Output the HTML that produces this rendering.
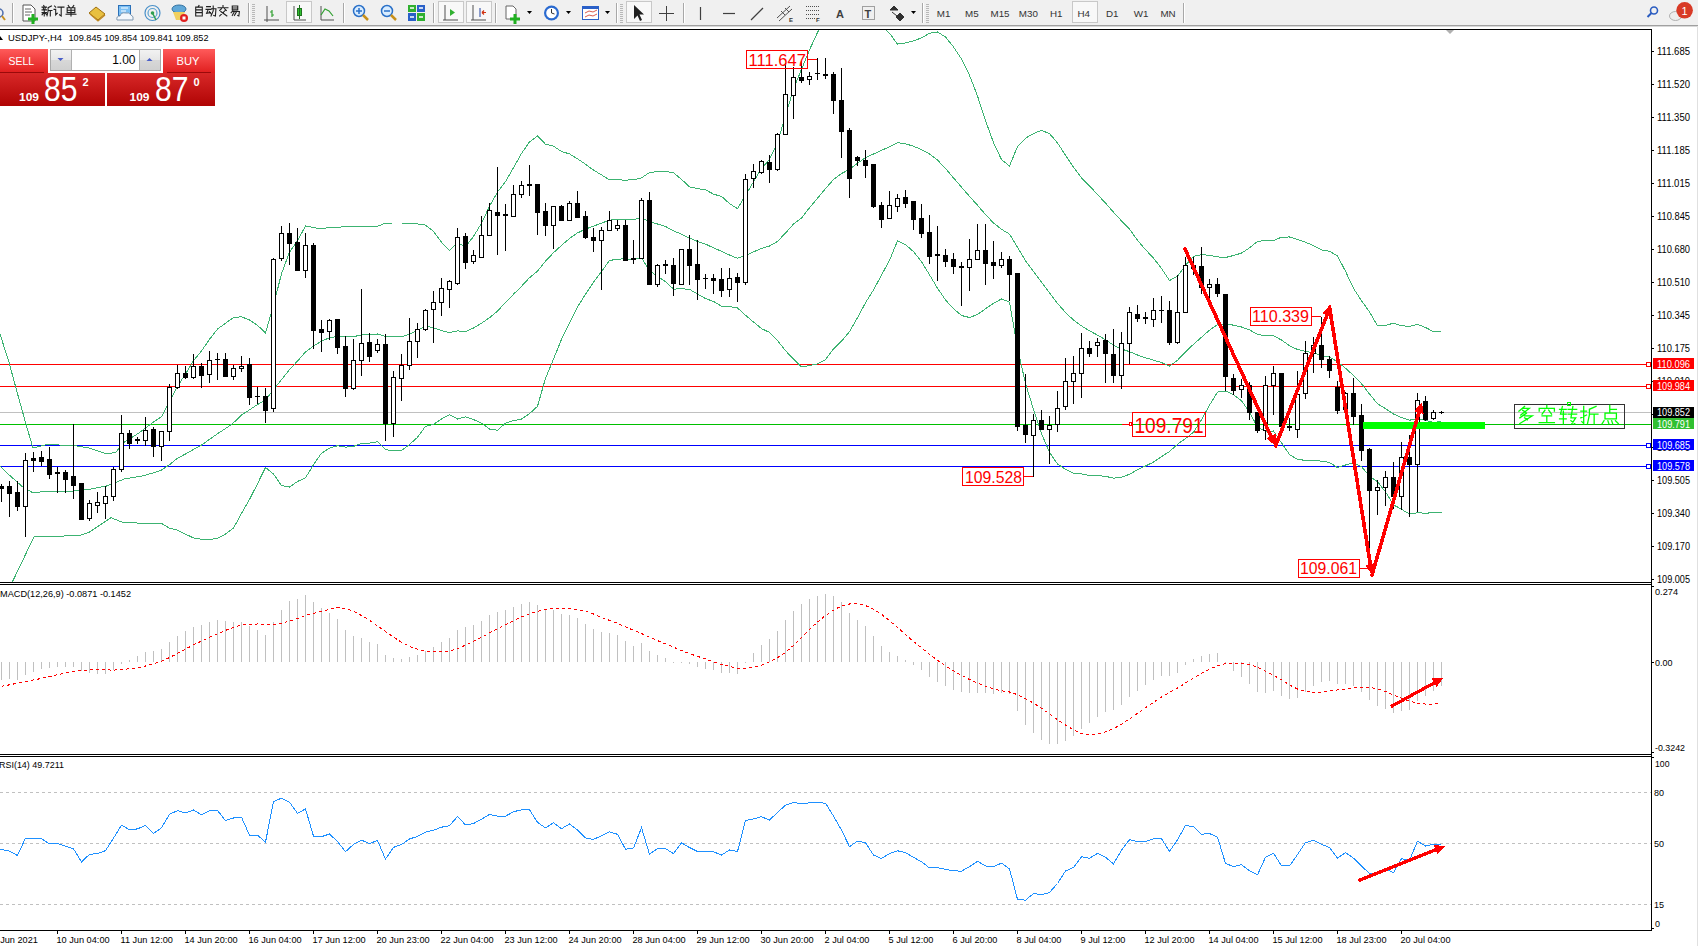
<!DOCTYPE html><html><head><meta charset="utf-8"><style>html,body{margin:0;padding:0;width:1698px;height:946px;overflow:hidden;background:#fff}svg{position:absolute;left:0;top:0;display:block}</style></head><body><svg width="1698" height="946" viewBox="0 0 1698 946">
<defs><clipPath id="cmain"><rect x="0" y="30" width="1651" height="552"/></clipPath><clipPath id="cmacd"><rect x="0" y="585" width="1651" height="169"/></clipPath><clipPath id="crsi"><rect x="0" y="757" width="1651" height="173"/></clipPath></defs>
<rect x="0" y="0" width="1698" height="946" fill="#fff"/>
<rect x="0" y="0" width="1698" height="25" fill="#F0F0F0"/>
<rect x="0" y="25" width="1698" height="1" fill="#A0A0A0"/><rect x="0" y="26" width="1698" height="1" fill="#D8D8D8"/>
<rect x="1697" y="26" width="1" height="920" fill="#E0E0E0"/>
<g shape-rendering="crispEdges" fill="#000">
<rect x="0" y="29" width="1652" height="1"/>
<rect x="1651" y="29" width="1" height="902"/>
<rect x="0" y="582" width="1652" height="1"/>
<rect x="0" y="584" width="1652" height="1"/>
<rect x="0" y="754" width="1652" height="1"/>
<rect x="0" y="756" width="1652" height="1"/>
<rect x="0" y="930" width="1652" height="1"/>
</g>
<g shape-rendering="crispEdges">
<rect x="0" y="364" width="1651" height="1" fill="#FF0000"/>
<rect x="0" y="386" width="1651" height="1" fill="#FF0000"/>
<rect x="0" y="412" width="1651" height="1" fill="#C0C0C0"/>
<rect x="0" y="424" width="1651" height="1" fill="#00C000"/>
<rect x="0" y="445" width="1651" height="1" fill="#0000FF"/>
<rect x="0" y="466" width="1651" height="1" fill="#0000FF"/>
<rect x="1646.5" y="362.5" width="4" height="4" fill="#fff" stroke="#FF0000" stroke-width="1"/>
<rect x="1646.5" y="384.5" width="4" height="4" fill="#fff" stroke="#FF0000" stroke-width="1"/>
<rect x="1646.5" y="443.5" width="4" height="4" fill="#fff" stroke="#0000FF" stroke-width="1"/>
<rect x="1646.5" y="464.5" width="4" height="4" fill="#fff" stroke="#0000FF" stroke-width="1"/>
</g>
<g clip-path="url(#cmain)">
<polyline points="0.0,334.0 8.9,362.0 17.8,394.7 26.0,424.3 33.0,448.0 47.4,444.5 59.2,445.0 74.0,445.6 88.8,448.0 106.6,454.0 115.5,452.5 124.3,442.0 139.0,433.0 153.5,422.1 161.5,416.7 169.5,401.5 177.5,386.3 185.5,373.9 193.5,360.7 201.5,350.9 209.5,339.3 217.5,329.1 225.5,323.2 233.5,317.5 241.5,316.8 249.5,320.0 257.5,325.3 265.5,332.9 273.5,305.3 281.5,273.7 289.5,252.2 297.5,240.8 305.5,225.9 313.5,227.5 321.5,229.0 329.5,227.4 337.5,227.2 345.5,226.8 353.5,226.8 361.5,226.6 369.5,226.5 377.5,226.3 385.5,223.1 393.5,223.0 401.5,223.0 409.5,223.6 417.5,224.0 425.5,225.1 433.5,231.3 441.5,242.2 449.5,250.5 457.5,242.8 465.5,246.6 473.5,236.5 481.5,223.2 489.5,206.3 497.5,192.0 505.5,181.7 513.5,167.7 521.5,153.5 529.5,141.9 537.5,136.0 545.5,144.2 553.5,146.2 561.5,151.5 569.5,153.9 577.5,158.9 585.5,164.2 593.5,170.1 601.5,174.9 609.5,179.8 617.5,179.9 625.5,180.1 633.5,179.8 641.5,177.8 649.5,172.5 657.5,171.6 665.5,171.4 673.5,172.7 681.5,179.4 689.5,186.8 697.5,188.7 705.5,189.7 713.5,194.2 721.5,196.3 729.5,203.6 737.5,208.7 745.5,195.5 753.5,181.8 761.5,168.4 769.5,159.5 777.5,142.4 785.5,115.6 793.5,89.1 801.5,69.3 809.5,49.9 817.5,32.4 825.5,17.6 833.5,10.0 841.5,6.0 849.5,6.9 857.5,8.9 865.5,12.5 873.5,18.0 881.5,25.6 889.5,33.2 897.5,44.1 905.5,43.0 913.5,40.8 921.5,37.9 929.5,33.2 937.5,32.0 945.5,37.0 953.5,46.9 961.5,58.9 969.5,75.3 977.5,96.0 985.5,120.5 993.5,142.6 1001.5,159.6 1009.5,166.1 1017.5,146.5 1025.5,138.2 1033.5,133.5 1041.5,130.4 1049.5,133.6 1057.5,142.9 1065.5,155.3 1073.5,167.1 1081.5,177.9 1089.5,185.9 1097.5,194.5 1105.5,203.1 1113.5,212.2 1121.5,220.9 1129.5,229.0 1137.5,240.3 1145.5,249.6 1153.5,258.1 1161.5,268.5 1169.5,280.5 1177.5,276.3 1185.5,265.3 1193.5,256.3 1201.5,254.8 1209.5,255.2 1217.5,256.9 1225.5,257.5 1233.5,255.5 1241.5,253.1 1249.5,247.9 1257.5,241.4 1265.5,240.6 1273.5,240.7 1281.5,237.1 1289.5,237.0 1297.5,239.6 1305.5,242.3 1313.5,245.6 1321.5,249.9 1329.5,251.3 1337.5,255.9 1345.5,271.3 1353.5,288.3 1361.5,300.7 1369.5,311.9 1377.5,325.7 1385.5,325.5 1393.5,323.1 1401.5,325.8 1409.5,326.3 1417.5,324.5 1425.5,327.4 1433.5,331.8 1441.5,331.0" fill="none" stroke="#3CB371" stroke-width="1" shape-rendering="crispEdges" />
<polyline points="0.0,465.8 8.9,474.7 22.2,486.5 33.2,493.0 47.4,491.0 74.0,491.0 88.8,489.5 106.6,486.0 124.3,479.0 142.0,476.0 153.5,472.9 161.5,470.0 169.5,464.8 177.5,458.2 185.5,454.0 193.5,449.4 201.5,445.1 209.5,439.4 217.5,433.7 225.5,428.6 233.5,422.8 241.5,415.1 249.5,409.8 257.5,404.5 265.5,400.2 273.5,389.7 281.5,379.7 289.5,369.7 297.5,361.1 305.5,351.9 313.5,346.1 321.5,341.1 329.5,337.8 337.5,336.4 345.5,336.9 353.5,336.6 361.5,335.0 369.5,334.8 377.5,334.0 385.5,336.4 393.5,336.9 401.5,336.8 409.5,334.0 417.5,330.7 425.5,325.7 433.5,327.9 441.5,330.6 449.5,332.6 457.5,330.9 465.5,331.7 473.5,328.0 481.5,323.2 489.5,317.7 497.5,311.1 505.5,302.5 513.5,294.2 521.5,286.3 529.5,277.7 537.5,271.1 545.5,261.2 553.5,252.7 561.5,245.4 569.5,238.5 577.5,232.9 585.5,229.2 593.5,226.1 601.5,223.2 609.5,220.1 617.5,219.5 625.5,219.5 633.5,219.6 641.5,217.8 649.5,221.5 657.5,224.0 665.5,226.5 673.5,230.9 681.5,234.1 689.5,238.1 697.5,241.4 705.5,244.1 713.5,247.8 721.5,251.3 729.5,255.0 737.5,258.3 745.5,255.4 753.5,251.9 761.5,248.5 769.5,246.0 777.5,241.4 785.5,233.1 793.5,224.1 801.5,218.1 809.5,207.7 817.5,198.2 825.5,188.7 833.5,179.5 841.5,173.6 849.5,169.3 857.5,163.3 865.5,157.7 873.5,154.0 881.5,150.4 889.5,146.8 897.5,142.6 905.5,143.8 913.5,146.2 921.5,149.7 929.5,154.0 937.5,160.1 945.5,168.5 953.5,177.9 961.5,187.2 969.5,196.4 977.5,205.2 985.5,214.6 993.5,222.9 1001.5,229.3 1009.5,234.1 1017.5,247.4 1025.5,260.8 1033.5,271.5 1041.5,282.0 1049.5,293.0 1057.5,303.5 1065.5,312.4 1073.5,320.1 1081.5,325.9 1089.5,330.8 1097.5,335.1 1105.5,339.7 1113.5,345.2 1121.5,349.0 1129.5,351.7 1137.5,355.0 1145.5,357.8 1153.5,360.1 1161.5,362.6 1169.5,366.0 1177.5,360.3 1185.5,351.9 1193.5,344.3 1201.5,337.2 1209.5,330.2 1217.5,324.5 1225.5,324.3 1233.5,325.1 1241.5,327.0 1249.5,329.9 1257.5,334.3 1265.5,335.9 1273.5,335.8 1281.5,340.0 1289.5,345.7 1297.5,349.5 1305.5,351.3 1313.5,353.0 1321.5,355.5 1329.5,356.9 1337.5,361.8 1345.5,368.2 1353.5,375.5 1361.5,383.7 1369.5,394.0 1377.5,403.7 1385.5,408.7 1393.5,414.0 1401.5,417.6 1409.5,420.2 1417.5,418.7 1425.5,420.3 1433.5,422.3 1441.5,421.6" fill="none" stroke="#3CB371" stroke-width="1" shape-rendering="crispEdges" />
<polyline points="0.0,600.0 13.3,580.0 34.0,536.8 59.2,536.2 80.0,535.3 88.8,532.4 111.0,517.6 121.4,522.0 145.0,523.5 153.5,523.7 161.5,523.4 169.5,528.1 177.5,530.1 185.5,534.1 193.5,538.0 201.5,539.3 209.5,539.5 217.5,538.4 225.5,534.0 233.5,528.1 241.5,513.4 249.5,499.5 257.5,483.7 265.5,467.4 273.5,474.0 281.5,485.6 289.5,487.1 297.5,481.5 305.5,477.8 313.5,464.7 321.5,453.2 329.5,448.1 337.5,445.7 345.5,447.1 353.5,446.4 361.5,443.5 369.5,443.1 377.5,441.8 385.5,449.7 393.5,450.7 401.5,450.6 409.5,444.5 417.5,437.3 425.5,426.3 433.5,424.4 441.5,419.0 449.5,414.6 457.5,419.0 465.5,416.9 473.5,419.5 481.5,423.1 489.5,429.1 497.5,430.2 505.5,423.2 513.5,420.6 521.5,419.1 529.5,413.6 537.5,406.3 545.5,378.3 553.5,359.1 561.5,339.4 569.5,323.2 577.5,306.9 585.5,294.3 593.5,282.2 601.5,271.6 609.5,260.5 617.5,259.2 625.5,258.8 633.5,259.4 641.5,257.8 649.5,270.5 657.5,276.3 665.5,281.6 673.5,289.1 681.5,288.8 689.5,289.3 697.5,294.1 705.5,298.6 713.5,301.4 721.5,306.3 729.5,306.5 737.5,307.9 745.5,315.3 753.5,322.0 761.5,328.6 769.5,332.4 777.5,340.5 785.5,350.7 793.5,359.1 801.5,366.9 809.5,365.5 817.5,363.9 825.5,359.7 833.5,349.0 841.5,341.2 849.5,331.6 857.5,317.7 865.5,302.8 873.5,289.9 881.5,275.2 889.5,260.3 897.5,241.0 905.5,244.6 913.5,251.6 921.5,261.6 929.5,274.8 937.5,288.2 945.5,299.9 953.5,308.8 961.5,315.5 969.5,317.5 977.5,314.5 985.5,308.8 993.5,303.2 1001.5,299.0 1009.5,302.1 1017.5,348.2 1025.5,383.4 1033.5,409.5 1041.5,433.6 1049.5,452.3 1057.5,464.0 1065.5,469.4 1073.5,473.1 1081.5,473.9 1089.5,475.6 1097.5,475.7 1105.5,476.3 1113.5,478.2 1121.5,477.1 1129.5,474.3 1137.5,469.8 1145.5,466.0 1153.5,462.1 1161.5,456.7 1169.5,451.5 1177.5,444.3 1185.5,438.5 1193.5,432.3 1201.5,419.6 1209.5,405.2 1217.5,392.1 1225.5,391.0 1233.5,394.8 1241.5,400.8 1249.5,411.9 1257.5,427.3 1265.5,431.2 1273.5,431.0 1281.5,442.9 1289.5,454.5 1297.5,459.5 1305.5,460.3 1313.5,460.5 1321.5,461.1 1329.5,462.5 1337.5,467.6 1345.5,465.0 1353.5,462.7 1361.5,466.7 1369.5,476.1 1377.5,481.7 1385.5,491.9 1393.5,504.8 1401.5,509.3 1409.5,514.1 1417.5,512.8 1425.5,513.2 1433.5,512.7 1441.5,512.2" fill="none" stroke="#3CB371" stroke-width="1" shape-rendering="crispEdges" />
</g>
<g shape-rendering="crispEdges">
<rect x="1" y="484" width="1" height="18" fill="#000"/>
<rect x="-1" y="486" width="5" height="3" fill="#000"/>
<rect x="9" y="481" width="1" height="36" fill="#000"/>
<rect x="7" y="486" width="5" height="8" fill="#000"/>
<rect x="17" y="481" width="1" height="30" fill="#000"/>
<rect x="15" y="492" width="5" height="15" fill="#000"/>
<rect x="25" y="453" width="1" height="84" fill="#000"/>
<rect x="23" y="460" width="5" height="47" fill="#000"/>
<rect x="24" y="461" width="3" height="45" fill="#fff"/>
<rect x="33" y="452" width="1" height="20" fill="#000"/>
<rect x="31" y="458" width="5" height="3" fill="#000"/>
<rect x="41" y="451" width="1" height="15" fill="#000"/>
<rect x="39" y="457" width="5" height="5" fill="#000"/>
<rect x="49" y="447" width="1" height="32" fill="#000"/>
<rect x="47" y="459" width="5" height="16" fill="#000"/>
<rect x="57" y="467" width="1" height="26" fill="#000"/>
<rect x="55" y="472" width="5" height="2" fill="#000"/>
<rect x="65" y="470" width="1" height="23" fill="#000"/>
<rect x="63" y="472" width="5" height="8" fill="#000"/>
<rect x="73" y="424" width="1" height="75" fill="#000"/>
<rect x="71" y="476" width="5" height="10" fill="#000"/>
<rect x="81" y="483" width="1" height="37" fill="#000"/>
<rect x="79" y="483" width="5" height="37" fill="#000"/>
<rect x="89" y="500" width="1" height="21" fill="#000"/>
<rect x="87" y="503" width="5" height="16" fill="#000"/>
<rect x="88" y="504" width="3" height="14" fill="#fff"/>
<rect x="97" y="492" width="1" height="21" fill="#000"/>
<rect x="95" y="502" width="5" height="4" fill="#000"/>
<rect x="96" y="503" width="3" height="2" fill="#fff"/>
<rect x="105" y="486" width="1" height="33" fill="#000"/>
<rect x="103" y="496" width="5" height="8" fill="#000"/>
<rect x="104" y="497" width="3" height="6" fill="#fff"/>
<rect x="113" y="467" width="1" height="34" fill="#000"/>
<rect x="111" y="469" width="5" height="28" fill="#000"/>
<rect x="112" y="470" width="3" height="26" fill="#fff"/>
<rect x="121" y="415" width="1" height="57" fill="#000"/>
<rect x="119" y="433" width="5" height="37" fill="#000"/>
<rect x="120" y="434" width="3" height="35" fill="#fff"/>
<rect x="129" y="430" width="1" height="19" fill="#000"/>
<rect x="127" y="433" width="5" height="11" fill="#000"/>
<rect x="137" y="437" width="1" height="7" fill="#000"/>
<rect x="135" y="439" width="5" height="2" fill="#000"/>
<rect x="145" y="417" width="1" height="29" fill="#000"/>
<rect x="143" y="430" width="5" height="11" fill="#000"/>
<rect x="144" y="431" width="3" height="9" fill="#fff"/>
<rect x="153" y="427" width="1" height="30" fill="#000"/>
<rect x="151" y="429" width="5" height="18" fill="#000"/>
<rect x="161" y="431" width="1" height="30" fill="#000"/>
<rect x="159" y="431" width="5" height="16" fill="#000"/>
<rect x="160" y="432" width="3" height="14" fill="#fff"/>
<rect x="169" y="384" width="1" height="57" fill="#000"/>
<rect x="167" y="387" width="5" height="45" fill="#000"/>
<rect x="168" y="388" width="3" height="43" fill="#fff"/>
<rect x="177" y="365" width="1" height="24" fill="#000"/>
<rect x="175" y="373" width="5" height="15" fill="#000"/>
<rect x="176" y="374" width="3" height="13" fill="#fff"/>
<rect x="185" y="366" width="1" height="13" fill="#000"/>
<rect x="183" y="373" width="5" height="5" fill="#000"/>
<rect x="193" y="354" width="1" height="25" fill="#000"/>
<rect x="191" y="366" width="5" height="12" fill="#000"/>
<rect x="192" y="367" width="3" height="10" fill="#fff"/>
<rect x="201" y="363" width="1" height="25" fill="#000"/>
<rect x="199" y="366" width="5" height="10" fill="#000"/>
<rect x="209" y="351" width="1" height="32" fill="#000"/>
<rect x="207" y="360" width="5" height="15" fill="#000"/>
<rect x="208" y="361" width="3" height="13" fill="#fff"/>
<rect x="217" y="353" width="1" height="27" fill="#000"/>
<rect x="215" y="359" width="5" height="1" fill="#000"/>
<rect x="225" y="353" width="1" height="23" fill="#000"/>
<rect x="223" y="359" width="5" height="18" fill="#000"/>
<rect x="233" y="365" width="1" height="15" fill="#000"/>
<rect x="231" y="368" width="5" height="9" fill="#000"/>
<rect x="232" y="369" width="3" height="7" fill="#fff"/>
<rect x="241" y="356" width="1" height="16" fill="#000"/>
<rect x="239" y="366" width="5" height="3" fill="#000"/>
<rect x="240" y="367" width="3" height="1" fill="#fff"/>
<rect x="249" y="358" width="1" height="47" fill="#000"/>
<rect x="247" y="364" width="5" height="34" fill="#000"/>
<rect x="257" y="387" width="1" height="17" fill="#000"/>
<rect x="255" y="396" width="5" height="1" fill="#000"/>
<rect x="265" y="388" width="1" height="35" fill="#000"/>
<rect x="263" y="396" width="5" height="15" fill="#000"/>
<rect x="273" y="258" width="1" height="154" fill="#000"/>
<rect x="271" y="259" width="5" height="150" fill="#000"/>
<rect x="272" y="260" width="3" height="148" fill="#fff"/>
<rect x="281" y="226" width="1" height="35" fill="#000"/>
<rect x="279" y="233" width="5" height="26" fill="#000"/>
<rect x="280" y="234" width="3" height="24" fill="#fff"/>
<rect x="289" y="223" width="1" height="42" fill="#000"/>
<rect x="287" y="233" width="5" height="11" fill="#000"/>
<rect x="297" y="228" width="1" height="42" fill="#000"/>
<rect x="295" y="242" width="5" height="29" fill="#000"/>
<rect x="305" y="233" width="1" height="45" fill="#000"/>
<rect x="303" y="245" width="5" height="26" fill="#000"/>
<rect x="304" y="246" width="3" height="24" fill="#fff"/>
<rect x="313" y="243" width="1" height="106" fill="#000"/>
<rect x="311" y="245" width="5" height="86" fill="#000"/>
<rect x="321" y="320" width="1" height="32" fill="#000"/>
<rect x="319" y="329" width="5" height="4" fill="#000"/>
<rect x="329" y="319" width="1" height="21" fill="#000"/>
<rect x="327" y="320" width="5" height="12" fill="#000"/>
<rect x="328" y="321" width="3" height="10" fill="#fff"/>
<rect x="337" y="319" width="1" height="35" fill="#000"/>
<rect x="335" y="319" width="5" height="29" fill="#000"/>
<rect x="345" y="336" width="1" height="61" fill="#000"/>
<rect x="343" y="346" width="5" height="43" fill="#000"/>
<rect x="353" y="339" width="1" height="51" fill="#000"/>
<rect x="351" y="360" width="5" height="29" fill="#000"/>
<rect x="352" y="361" width="3" height="27" fill="#fff"/>
<rect x="361" y="289" width="1" height="87" fill="#000"/>
<rect x="359" y="343" width="5" height="18" fill="#000"/>
<rect x="360" y="344" width="3" height="16" fill="#fff"/>
<rect x="369" y="333" width="1" height="29" fill="#000"/>
<rect x="367" y="342" width="5" height="15" fill="#000"/>
<rect x="377" y="339" width="1" height="14" fill="#000"/>
<rect x="375" y="344" width="5" height="7" fill="#000"/>
<rect x="376" y="345" width="3" height="5" fill="#fff"/>
<rect x="385" y="334" width="1" height="107" fill="#000"/>
<rect x="383" y="344" width="5" height="80" fill="#000"/>
<rect x="393" y="371" width="1" height="66" fill="#000"/>
<rect x="391" y="377" width="5" height="47" fill="#000"/>
<rect x="392" y="378" width="3" height="45" fill="#fff"/>
<rect x="401" y="354" width="1" height="47" fill="#000"/>
<rect x="399" y="365" width="5" height="14" fill="#000"/>
<rect x="400" y="366" width="3" height="12" fill="#fff"/>
<rect x="409" y="318" width="1" height="52" fill="#000"/>
<rect x="407" y="341" width="5" height="25" fill="#000"/>
<rect x="408" y="342" width="3" height="23" fill="#fff"/>
<rect x="417" y="323" width="1" height="35" fill="#000"/>
<rect x="415" y="329" width="5" height="13" fill="#000"/>
<rect x="416" y="330" width="3" height="11" fill="#fff"/>
<rect x="425" y="309" width="1" height="22" fill="#000"/>
<rect x="423" y="310" width="5" height="20" fill="#000"/>
<rect x="424" y="311" width="3" height="18" fill="#fff"/>
<rect x="433" y="291" width="1" height="52" fill="#000"/>
<rect x="431" y="302" width="5" height="8" fill="#000"/>
<rect x="432" y="303" width="3" height="6" fill="#fff"/>
<rect x="441" y="278" width="1" height="38" fill="#000"/>
<rect x="439" y="288" width="5" height="15" fill="#000"/>
<rect x="440" y="289" width="3" height="13" fill="#fff"/>
<rect x="449" y="280" width="1" height="28" fill="#000"/>
<rect x="447" y="281" width="5" height="9" fill="#000"/>
<rect x="448" y="282" width="3" height="7" fill="#fff"/>
<rect x="457" y="228" width="1" height="57" fill="#000"/>
<rect x="455" y="237" width="5" height="47" fill="#000"/>
<rect x="456" y="238" width="3" height="45" fill="#fff"/>
<rect x="465" y="233" width="1" height="36" fill="#000"/>
<rect x="463" y="236" width="5" height="27" fill="#000"/>
<rect x="473" y="250" width="1" height="14" fill="#000"/>
<rect x="471" y="255" width="5" height="7" fill="#000"/>
<rect x="472" y="256" width="3" height="5" fill="#fff"/>
<rect x="481" y="216" width="1" height="42" fill="#000"/>
<rect x="479" y="235" width="5" height="23" fill="#000"/>
<rect x="480" y="236" width="3" height="21" fill="#fff"/>
<rect x="489" y="203" width="1" height="32" fill="#000"/>
<rect x="487" y="210" width="5" height="26" fill="#000"/>
<rect x="488" y="211" width="3" height="24" fill="#fff"/>
<rect x="497" y="167" width="1" height="88" fill="#000"/>
<rect x="495" y="212" width="5" height="4" fill="#000"/>
<rect x="505" y="204" width="1" height="47" fill="#000"/>
<rect x="503" y="214" width="5" height="2" fill="#000"/>
<rect x="513" y="185" width="1" height="31" fill="#000"/>
<rect x="511" y="194" width="5" height="23" fill="#000"/>
<rect x="512" y="195" width="3" height="21" fill="#fff"/>
<rect x="521" y="181" width="1" height="17" fill="#000"/>
<rect x="519" y="185" width="5" height="10" fill="#000"/>
<rect x="520" y="186" width="3" height="8" fill="#fff"/>
<rect x="529" y="165" width="1" height="31" fill="#000"/>
<rect x="527" y="184" width="5" height="2" fill="#000"/>
<rect x="537" y="184" width="1" height="51" fill="#000"/>
<rect x="535" y="184" width="5" height="29" fill="#000"/>
<rect x="545" y="203" width="1" height="33" fill="#000"/>
<rect x="543" y="211" width="5" height="15" fill="#000"/>
<rect x="553" y="206" width="1" height="43" fill="#000"/>
<rect x="551" y="206" width="5" height="20" fill="#000"/>
<rect x="552" y="207" width="3" height="18" fill="#fff"/>
<rect x="561" y="205" width="1" height="15" fill="#000"/>
<rect x="559" y="206" width="5" height="15" fill="#000"/>
<rect x="569" y="201" width="1" height="20" fill="#000"/>
<rect x="567" y="203" width="5" height="18" fill="#000"/>
<rect x="568" y="204" width="3" height="16" fill="#fff"/>
<rect x="577" y="191" width="1" height="27" fill="#000"/>
<rect x="575" y="203" width="5" height="15" fill="#000"/>
<rect x="585" y="211" width="1" height="28" fill="#000"/>
<rect x="583" y="216" width="5" height="22" fill="#000"/>
<rect x="593" y="228" width="1" height="24" fill="#000"/>
<rect x="591" y="237" width="5" height="4" fill="#000"/>
<rect x="601" y="227" width="1" height="63" fill="#000"/>
<rect x="599" y="230" width="5" height="11" fill="#000"/>
<rect x="600" y="231" width="3" height="9" fill="#fff"/>
<rect x="609" y="211" width="1" height="20" fill="#000"/>
<rect x="607" y="220" width="5" height="11" fill="#000"/>
<rect x="608" y="221" width="3" height="9" fill="#fff"/>
<rect x="617" y="220" width="1" height="11" fill="#000"/>
<rect x="615" y="225" width="5" height="4" fill="#000"/>
<rect x="616" y="226" width="3" height="2" fill="#fff"/>
<rect x="625" y="220" width="1" height="40" fill="#000"/>
<rect x="623" y="225" width="5" height="36" fill="#000"/>
<rect x="633" y="240" width="1" height="24" fill="#000"/>
<rect x="631" y="258" width="5" height="2" fill="#000"/>
<rect x="641" y="198" width="1" height="61" fill="#000"/>
<rect x="639" y="200" width="5" height="59" fill="#000"/>
<rect x="640" y="201" width="3" height="57" fill="#fff"/>
<rect x="649" y="192" width="1" height="92" fill="#000"/>
<rect x="647" y="200" width="5" height="85" fill="#000"/>
<rect x="657" y="264" width="1" height="23" fill="#000"/>
<rect x="655" y="265" width="5" height="20" fill="#000"/>
<rect x="656" y="266" width="3" height="18" fill="#fff"/>
<rect x="665" y="260" width="1" height="14" fill="#000"/>
<rect x="663" y="264" width="5" height="2" fill="#000"/>
<rect x="673" y="258" width="1" height="38" fill="#000"/>
<rect x="671" y="265" width="5" height="19" fill="#000"/>
<rect x="681" y="249" width="1" height="35" fill="#000"/>
<rect x="679" y="249" width="5" height="36" fill="#000"/>
<rect x="680" y="250" width="3" height="34" fill="#fff"/>
<rect x="689" y="235" width="1" height="50" fill="#000"/>
<rect x="687" y="249" width="5" height="17" fill="#000"/>
<rect x="697" y="240" width="1" height="60" fill="#000"/>
<rect x="695" y="264" width="5" height="16" fill="#000"/>
<rect x="705" y="274" width="1" height="15" fill="#000"/>
<rect x="703" y="278" width="5" height="1" fill="#000"/>
<rect x="713" y="274" width="1" height="20" fill="#000"/>
<rect x="711" y="278" width="5" height="3" fill="#000"/>
<rect x="721" y="268" width="1" height="29" fill="#000"/>
<rect x="719" y="279" width="5" height="12" fill="#000"/>
<rect x="729" y="268" width="1" height="29" fill="#000"/>
<rect x="727" y="278" width="5" height="12" fill="#000"/>
<rect x="728" y="279" width="3" height="10" fill="#fff"/>
<rect x="737" y="273" width="1" height="29" fill="#000"/>
<rect x="735" y="277" width="5" height="6" fill="#000"/>
<rect x="745" y="174" width="1" height="111" fill="#000"/>
<rect x="743" y="179" width="5" height="104" fill="#000"/>
<rect x="744" y="180" width="3" height="102" fill="#fff"/>
<rect x="753" y="164" width="1" height="24" fill="#000"/>
<rect x="751" y="171" width="5" height="8" fill="#000"/>
<rect x="752" y="172" width="3" height="6" fill="#fff"/>
<rect x="761" y="160" width="1" height="14" fill="#000"/>
<rect x="759" y="161" width="5" height="12" fill="#000"/>
<rect x="760" y="162" width="3" height="10" fill="#fff"/>
<rect x="769" y="155" width="1" height="28" fill="#000"/>
<rect x="767" y="162" width="5" height="8" fill="#000"/>
<rect x="777" y="133" width="1" height="38" fill="#000"/>
<rect x="775" y="134" width="5" height="36" fill="#000"/>
<rect x="776" y="135" width="3" height="34" fill="#fff"/>
<rect x="785" y="63" width="1" height="71" fill="#000"/>
<rect x="783" y="94" width="5" height="41" fill="#000"/>
<rect x="784" y="95" width="3" height="39" fill="#fff"/>
<rect x="793" y="67" width="1" height="52" fill="#000"/>
<rect x="791" y="77" width="5" height="19" fill="#000"/>
<rect x="792" y="78" width="3" height="17" fill="#fff"/>
<rect x="801" y="61" width="1" height="22" fill="#000"/>
<rect x="799" y="77" width="5" height="4" fill="#000"/>
<rect x="809" y="72" width="1" height="13" fill="#000"/>
<rect x="807" y="76" width="5" height="4" fill="#000"/>
<rect x="808" y="77" width="3" height="2" fill="#fff"/>
<rect x="817" y="58" width="1" height="22" fill="#000"/>
<rect x="815" y="73" width="5" height="1" fill="#000"/>
<rect x="825" y="58" width="1" height="21" fill="#000"/>
<rect x="823" y="74" width="5" height="2" fill="#000"/>
<rect x="833" y="72" width="1" height="42" fill="#000"/>
<rect x="831" y="74" width="5" height="27" fill="#000"/>
<rect x="841" y="68" width="1" height="90" fill="#000"/>
<rect x="839" y="100" width="5" height="32" fill="#000"/>
<rect x="849" y="128" width="1" height="70" fill="#000"/>
<rect x="847" y="130" width="5" height="49" fill="#000"/>
<rect x="857" y="156" width="1" height="10" fill="#000"/>
<rect x="855" y="157" width="5" height="4" fill="#000"/>
<rect x="865" y="150" width="1" height="28" fill="#000"/>
<rect x="863" y="160" width="5" height="6" fill="#000"/>
<rect x="873" y="164" width="1" height="44" fill="#000"/>
<rect x="871" y="164" width="5" height="43" fill="#000"/>
<rect x="881" y="202" width="1" height="26" fill="#000"/>
<rect x="879" y="205" width="5" height="15" fill="#000"/>
<rect x="889" y="191" width="1" height="28" fill="#000"/>
<rect x="887" y="205" width="5" height="14" fill="#000"/>
<rect x="888" y="206" width="3" height="12" fill="#fff"/>
<rect x="897" y="194" width="1" height="18" fill="#000"/>
<rect x="895" y="198" width="5" height="9" fill="#000"/>
<rect x="896" y="199" width="3" height="7" fill="#fff"/>
<rect x="905" y="190" width="1" height="18" fill="#000"/>
<rect x="903" y="197" width="5" height="7" fill="#000"/>
<rect x="913" y="201" width="1" height="29" fill="#000"/>
<rect x="911" y="201" width="5" height="19" fill="#000"/>
<rect x="921" y="204" width="1" height="34" fill="#000"/>
<rect x="919" y="218" width="5" height="16" fill="#000"/>
<rect x="929" y="215" width="1" height="49" fill="#000"/>
<rect x="927" y="232" width="5" height="25" fill="#000"/>
<rect x="937" y="226" width="1" height="55" fill="#000"/>
<rect x="935" y="254" width="5" height="2" fill="#000"/>
<rect x="945" y="249" width="1" height="18" fill="#000"/>
<rect x="943" y="255" width="5" height="7" fill="#000"/>
<rect x="953" y="253" width="1" height="21" fill="#000"/>
<rect x="951" y="259" width="5" height="8" fill="#000"/>
<rect x="961" y="262" width="1" height="44" fill="#000"/>
<rect x="959" y="266" width="5" height="2" fill="#000"/>
<rect x="969" y="239" width="1" height="52" fill="#000"/>
<rect x="967" y="259" width="5" height="9" fill="#000"/>
<rect x="968" y="260" width="3" height="7" fill="#fff"/>
<rect x="977" y="224" width="1" height="35" fill="#000"/>
<rect x="975" y="250" width="5" height="10" fill="#000"/>
<rect x="976" y="251" width="3" height="8" fill="#fff"/>
<rect x="985" y="224" width="1" height="61" fill="#000"/>
<rect x="983" y="250" width="5" height="14" fill="#000"/>
<rect x="993" y="241" width="1" height="38" fill="#000"/>
<rect x="991" y="262" width="5" height="4" fill="#000"/>
<rect x="1001" y="252" width="1" height="16" fill="#000"/>
<rect x="999" y="259" width="5" height="7" fill="#000"/>
<rect x="1000" y="260" width="3" height="5" fill="#fff"/>
<rect x="1009" y="256" width="1" height="45" fill="#000"/>
<rect x="1007" y="259" width="5" height="16" fill="#000"/>
<rect x="1017" y="273" width="1" height="158" fill="#000"/>
<rect x="1015" y="273" width="5" height="154" fill="#000"/>
<rect x="1025" y="374" width="1" height="69" fill="#000"/>
<rect x="1023" y="425" width="5" height="10" fill="#000"/>
<rect x="1033" y="414" width="1" height="63" fill="#000"/>
<rect x="1031" y="420" width="5" height="16" fill="#000"/>
<rect x="1032" y="421" width="3" height="14" fill="#fff"/>
<rect x="1041" y="410" width="1" height="19" fill="#000"/>
<rect x="1039" y="420" width="5" height="10" fill="#000"/>
<rect x="1049" y="416" width="1" height="48" fill="#000"/>
<rect x="1047" y="425" width="5" height="5" fill="#000"/>
<rect x="1048" y="426" width="3" height="3" fill="#fff"/>
<rect x="1057" y="391" width="1" height="41" fill="#000"/>
<rect x="1055" y="408" width="5" height="17" fill="#000"/>
<rect x="1056" y="409" width="3" height="15" fill="#fff"/>
<rect x="1065" y="358" width="1" height="52" fill="#000"/>
<rect x="1063" y="381" width="5" height="26" fill="#000"/>
<rect x="1064" y="382" width="3" height="24" fill="#fff"/>
<rect x="1073" y="356" width="1" height="48" fill="#000"/>
<rect x="1071" y="373" width="5" height="9" fill="#000"/>
<rect x="1072" y="374" width="3" height="7" fill="#fff"/>
<rect x="1081" y="333" width="1" height="65" fill="#000"/>
<rect x="1079" y="348" width="5" height="26" fill="#000"/>
<rect x="1080" y="349" width="3" height="24" fill="#fff"/>
<rect x="1089" y="341" width="1" height="16" fill="#000"/>
<rect x="1087" y="348" width="5" height="6" fill="#000"/>
<rect x="1097" y="338" width="1" height="19" fill="#000"/>
<rect x="1095" y="342" width="5" height="4" fill="#000"/>
<rect x="1096" y="343" width="3" height="2" fill="#fff"/>
<rect x="1105" y="334" width="1" height="49" fill="#000"/>
<rect x="1103" y="340" width="5" height="14" fill="#000"/>
<rect x="1113" y="329" width="1" height="54" fill="#000"/>
<rect x="1111" y="354" width="5" height="22" fill="#000"/>
<rect x="1121" y="332" width="1" height="57" fill="#000"/>
<rect x="1119" y="343" width="5" height="33" fill="#000"/>
<rect x="1120" y="344" width="3" height="31" fill="#fff"/>
<rect x="1129" y="307" width="1" height="57" fill="#000"/>
<rect x="1127" y="312" width="5" height="32" fill="#000"/>
<rect x="1128" y="313" width="3" height="30" fill="#fff"/>
<rect x="1137" y="305" width="1" height="17" fill="#000"/>
<rect x="1135" y="314" width="5" height="5" fill="#000"/>
<rect x="1145" y="312" width="1" height="12" fill="#000"/>
<rect x="1143" y="317" width="5" height="2" fill="#000"/>
<rect x="1153" y="298" width="1" height="29" fill="#000"/>
<rect x="1151" y="310" width="5" height="10" fill="#000"/>
<rect x="1152" y="311" width="3" height="8" fill="#fff"/>
<rect x="1161" y="296" width="1" height="27" fill="#000"/>
<rect x="1159" y="310" width="5" height="1" fill="#000"/>
<rect x="1169" y="301" width="1" height="44" fill="#000"/>
<rect x="1167" y="310" width="5" height="33" fill="#000"/>
<rect x="1177" y="275" width="1" height="69" fill="#000"/>
<rect x="1175" y="312" width="5" height="31" fill="#000"/>
<rect x="1176" y="313" width="3" height="29" fill="#fff"/>
<rect x="1185" y="257" width="1" height="55" fill="#000"/>
<rect x="1183" y="265" width="5" height="48" fill="#000"/>
<rect x="1184" y="266" width="3" height="46" fill="#fff"/>
<rect x="1193" y="257" width="1" height="18" fill="#000"/>
<rect x="1191" y="265" width="5" height="4" fill="#000"/>
<rect x="1201" y="247" width="1" height="47" fill="#000"/>
<rect x="1199" y="266" width="5" height="22" fill="#000"/>
<rect x="1209" y="279" width="1" height="19" fill="#000"/>
<rect x="1207" y="284" width="5" height="4" fill="#000"/>
<rect x="1208" y="285" width="3" height="2" fill="#fff"/>
<rect x="1217" y="278" width="1" height="19" fill="#000"/>
<rect x="1215" y="284" width="5" height="10" fill="#000"/>
<rect x="1225" y="294" width="1" height="97" fill="#000"/>
<rect x="1223" y="294" width="5" height="83" fill="#000"/>
<rect x="1233" y="374" width="1" height="21" fill="#000"/>
<rect x="1231" y="378" width="5" height="13" fill="#000"/>
<rect x="1241" y="379" width="1" height="19" fill="#000"/>
<rect x="1239" y="385" width="5" height="5" fill="#000"/>
<rect x="1240" y="386" width="3" height="3" fill="#fff"/>
<rect x="1249" y="382" width="1" height="38" fill="#000"/>
<rect x="1247" y="385" width="5" height="28" fill="#000"/>
<rect x="1257" y="412" width="1" height="21" fill="#000"/>
<rect x="1255" y="412" width="5" height="19" fill="#000"/>
<rect x="1265" y="376" width="1" height="64" fill="#000"/>
<rect x="1263" y="385" width="5" height="46" fill="#000"/>
<rect x="1264" y="386" width="3" height="44" fill="#fff"/>
<rect x="1273" y="366" width="1" height="49" fill="#000"/>
<rect x="1271" y="373" width="5" height="13" fill="#000"/>
<rect x="1272" y="374" width="3" height="11" fill="#fff"/>
<rect x="1281" y="373" width="1" height="53" fill="#000"/>
<rect x="1279" y="373" width="5" height="54" fill="#000"/>
<rect x="1289" y="418" width="1" height="13" fill="#000"/>
<rect x="1287" y="426" width="5" height="2" fill="#000"/>
<rect x="1297" y="371" width="1" height="67" fill="#000"/>
<rect x="1295" y="394" width="5" height="36" fill="#000"/>
<rect x="1296" y="395" width="3" height="34" fill="#fff"/>
<rect x="1305" y="341" width="1" height="58" fill="#000"/>
<rect x="1303" y="353" width="5" height="41" fill="#000"/>
<rect x="1304" y="354" width="3" height="39" fill="#fff"/>
<rect x="1313" y="337" width="1" height="36" fill="#000"/>
<rect x="1311" y="345" width="5" height="9" fill="#000"/>
<rect x="1312" y="346" width="3" height="7" fill="#fff"/>
<rect x="1321" y="317" width="1" height="51" fill="#000"/>
<rect x="1319" y="345" width="5" height="15" fill="#000"/>
<rect x="1329" y="356" width="1" height="22" fill="#000"/>
<rect x="1327" y="359" width="5" height="12" fill="#000"/>
<rect x="1337" y="381" width="1" height="33" fill="#000"/>
<rect x="1335" y="387" width="5" height="24" fill="#000"/>
<rect x="1345" y="392" width="1" height="18" fill="#000"/>
<rect x="1343" y="393" width="5" height="17" fill="#000"/>
<rect x="1344" y="394" width="3" height="15" fill="#fff"/>
<rect x="1353" y="378" width="1" height="47" fill="#000"/>
<rect x="1351" y="393" width="5" height="24" fill="#000"/>
<rect x="1361" y="404" width="1" height="57" fill="#000"/>
<rect x="1359" y="415" width="5" height="36" fill="#000"/>
<rect x="1369" y="448" width="1" height="120" fill="#000"/>
<rect x="1367" y="449" width="5" height="42" fill="#000"/>
<rect x="1377" y="480" width="1" height="35" fill="#000"/>
<rect x="1375" y="487" width="5" height="4" fill="#000"/>
<rect x="1376" y="488" width="3" height="2" fill="#fff"/>
<rect x="1385" y="471" width="1" height="35" fill="#000"/>
<rect x="1383" y="477" width="5" height="11" fill="#000"/>
<rect x="1384" y="478" width="3" height="9" fill="#fff"/>
<rect x="1393" y="462" width="1" height="47" fill="#000"/>
<rect x="1391" y="477" width="5" height="20" fill="#000"/>
<rect x="1401" y="442" width="1" height="68" fill="#000"/>
<rect x="1399" y="457" width="5" height="40" fill="#000"/>
<rect x="1400" y="458" width="3" height="38" fill="#fff"/>
<rect x="1409" y="435" width="1" height="82" fill="#000"/>
<rect x="1407" y="457" width="5" height="8" fill="#000"/>
<rect x="1417" y="393" width="1" height="119" fill="#000"/>
<rect x="1415" y="400" width="5" height="65" fill="#000"/>
<rect x="1416" y="401" width="3" height="63" fill="#fff"/>
<rect x="1425" y="396" width="1" height="25" fill="#000"/>
<rect x="1423" y="401" width="5" height="19" fill="#000"/>
<rect x="1433" y="410" width="1" height="10" fill="#000"/>
<rect x="1431" y="412" width="5" height="7" fill="#000"/>
<rect x="1432" y="413" width="3" height="5" fill="#fff"/>
<rect x="1441" y="411" width="1" height="3" fill="#000"/>
<rect x="1439" y="412" width="5" height="1" fill="#000"/>
</g>
<g shape-rendering="crispEdges" fill="#C0C0C0">
<rect x="1" y="662" width="1" height="18"/>
<rect x="9" y="662" width="1" height="17"/>
<rect x="17" y="662" width="1" height="18"/>
<rect x="25" y="662" width="1" height="13"/>
<rect x="33" y="662" width="1" height="10"/>
<rect x="41" y="662" width="1" height="7"/>
<rect x="49" y="662" width="1" height="6"/>
<rect x="57" y="662" width="1" height="5"/>
<rect x="65" y="662" width="1" height="5"/>
<rect x="73" y="662" width="1" height="5"/>
<rect x="81" y="662" width="1" height="9"/>
<rect x="89" y="662" width="1" height="11"/>
<rect x="97" y="662" width="1" height="12"/>
<rect x="105" y="662" width="1" height="12"/>
<rect x="113" y="662" width="1" height="8"/>
<rect x="121" y="662" width="1" height="2"/>
<rect x="129" y="660" width="1" height="2"/>
<rect x="137" y="656" width="1" height="6"/>
<rect x="145" y="652" width="1" height="10"/>
<rect x="153" y="651" width="1" height="11"/>
<rect x="161" y="649" width="1" height="13"/>
<rect x="169" y="642" width="1" height="20"/>
<rect x="177" y="636" width="1" height="26"/>
<rect x="185" y="631" width="1" height="31"/>
<rect x="193" y="627" width="1" height="35"/>
<rect x="201" y="625" width="1" height="37"/>
<rect x="209" y="622" width="1" height="40"/>
<rect x="217" y="620" width="1" height="42"/>
<rect x="225" y="621" width="1" height="41"/>
<rect x="233" y="622" width="1" height="40"/>
<rect x="241" y="622" width="1" height="40"/>
<rect x="249" y="626" width="1" height="36"/>
<rect x="257" y="630" width="1" height="32"/>
<rect x="265" y="635" width="1" height="27"/>
<rect x="273" y="622" width="1" height="40"/>
<rect x="281" y="610" width="1" height="52"/>
<rect x="289" y="601" width="1" height="61"/>
<rect x="297" y="599" width="1" height="63"/>
<rect x="305" y="595" width="1" height="67"/>
<rect x="313" y="602" width="1" height="60"/>
<rect x="321" y="608" width="1" height="54"/>
<rect x="329" y="613" width="1" height="49"/>
<rect x="337" y="619" width="1" height="43"/>
<rect x="345" y="630" width="1" height="32"/>
<rect x="353" y="636" width="1" height="26"/>
<rect x="361" y="638" width="1" height="24"/>
<rect x="369" y="642" width="1" height="20"/>
<rect x="377" y="644" width="1" height="18"/>
<rect x="385" y="655" width="1" height="7"/>
<rect x="393" y="658" width="1" height="4"/>
<rect x="401" y="659" width="1" height="3"/>
<rect x="409" y="657" width="1" height="5"/>
<rect x="417" y="655" width="1" height="7"/>
<rect x="425" y="651" width="1" height="11"/>
<rect x="433" y="647" width="1" height="15"/>
<rect x="441" y="642" width="1" height="20"/>
<rect x="449" y="638" width="1" height="24"/>
<rect x="457" y="630" width="1" height="32"/>
<rect x="465" y="627" width="1" height="35"/>
<rect x="473" y="625" width="1" height="37"/>
<rect x="481" y="621" width="1" height="41"/>
<rect x="489" y="615" width="1" height="47"/>
<rect x="497" y="612" width="1" height="50"/>
<rect x="505" y="610" width="1" height="52"/>
<rect x="513" y="607" width="1" height="55"/>
<rect x="521" y="604" width="1" height="58"/>
<rect x="529" y="602" width="1" height="60"/>
<rect x="537" y="605" width="1" height="57"/>
<rect x="545" y="609" width="1" height="53"/>
<rect x="553" y="610" width="1" height="52"/>
<rect x="561" y="614" width="1" height="48"/>
<rect x="569" y="615" width="1" height="47"/>
<rect x="577" y="618" width="1" height="44"/>
<rect x="585" y="624" width="1" height="38"/>
<rect x="593" y="629" width="1" height="33"/>
<rect x="601" y="632" width="1" height="30"/>
<rect x="609" y="633" width="1" height="29"/>
<rect x="617" y="635" width="1" height="27"/>
<rect x="625" y="641" width="1" height="21"/>
<rect x="633" y="646" width="1" height="16"/>
<rect x="641" y="643" width="1" height="19"/>
<rect x="649" y="651" width="1" height="11"/>
<rect x="657" y="655" width="1" height="7"/>
<rect x="665" y="658" width="1" height="4"/>
<rect x="673" y="662" width="1" height="1"/>
<rect x="681" y="662" width="1" height="1"/>
<rect x="689" y="662" width="1" height="2"/>
<rect x="697" y="662" width="1" height="5"/>
<rect x="705" y="662" width="1" height="7"/>
<rect x="713" y="662" width="1" height="8"/>
<rect x="721" y="662" width="1" height="11"/>
<rect x="729" y="662" width="1" height="11"/>
<rect x="737" y="662" width="1" height="12"/>
<rect x="745" y="662" width="1" height="1"/>
<rect x="753" y="653" width="1" height="9"/>
<rect x="761" y="645" width="1" height="17"/>
<rect x="769" y="639" width="1" height="23"/>
<rect x="777" y="631" width="1" height="31"/>
<rect x="785" y="620" width="1" height="42"/>
<rect x="793" y="611" width="1" height="51"/>
<rect x="801" y="604" width="1" height="58"/>
<rect x="809" y="599" width="1" height="63"/>
<rect x="817" y="596" width="1" height="66"/>
<rect x="825" y="594" width="1" height="68"/>
<rect x="833" y="596" width="1" height="66"/>
<rect x="841" y="602" width="1" height="60"/>
<rect x="849" y="613" width="1" height="49"/>
<rect x="857" y="620" width="1" height="42"/>
<rect x="865" y="626" width="1" height="36"/>
<rect x="873" y="636" width="1" height="26"/>
<rect x="881" y="646" width="1" height="16"/>
<rect x="889" y="652" width="1" height="10"/>
<rect x="897" y="656" width="1" height="6"/>
<rect x="905" y="660" width="1" height="2"/>
<rect x="913" y="662" width="1" height="3"/>
<rect x="921" y="662" width="1" height="8"/>
<rect x="929" y="662" width="1" height="15"/>
<rect x="937" y="662" width="1" height="20"/>
<rect x="945" y="662" width="1" height="24"/>
<rect x="953" y="662" width="1" height="28"/>
<rect x="961" y="662" width="1" height="30"/>
<rect x="969" y="662" width="1" height="31"/>
<rect x="977" y="662" width="1" height="31"/>
<rect x="985" y="662" width="1" height="31"/>
<rect x="993" y="662" width="1" height="32"/>
<rect x="1001" y="662" width="1" height="31"/>
<rect x="1009" y="662" width="1" height="32"/>
<rect x="1017" y="662" width="1" height="49"/>
<rect x="1025" y="662" width="1" height="63"/>
<rect x="1033" y="662" width="1" height="71"/>
<rect x="1041" y="662" width="1" height="78"/>
<rect x="1049" y="662" width="1" height="82"/>
<rect x="1057" y="662" width="1" height="82"/>
<rect x="1065" y="662" width="1" height="79"/>
<rect x="1073" y="662" width="1" height="74"/>
<rect x="1081" y="662" width="1" height="67"/>
<rect x="1089" y="662" width="1" height="61"/>
<rect x="1097" y="662" width="1" height="55"/>
<rect x="1105" y="662" width="1" height="50"/>
<rect x="1113" y="662" width="1" height="48"/>
<rect x="1121" y="662" width="1" height="43"/>
<rect x="1129" y="662" width="1" height="35"/>
<rect x="1137" y="662" width="1" height="29"/>
<rect x="1145" y="662" width="1" height="23"/>
<rect x="1153" y="662" width="1" height="18"/>
<rect x="1161" y="662" width="1" height="14"/>
<rect x="1169" y="662" width="1" height="14"/>
<rect x="1177" y="662" width="1" height="11"/>
<rect x="1185" y="662" width="1" height="3"/>
<rect x="1193" y="659" width="1" height="3"/>
<rect x="1201" y="656" width="1" height="6"/>
<rect x="1209" y="654" width="1" height="8"/>
<rect x="1217" y="653" width="1" height="9"/>
<rect x="1225" y="662" width="1" height="1"/>
<rect x="1233" y="662" width="1" height="9"/>
<rect x="1241" y="662" width="1" height="15"/>
<rect x="1249" y="662" width="1" height="22"/>
<rect x="1257" y="662" width="1" height="30"/>
<rect x="1265" y="662" width="1" height="31"/>
<rect x="1273" y="662" width="1" height="29"/>
<rect x="1281" y="662" width="1" height="34"/>
<rect x="1289" y="662" width="1" height="37"/>
<rect x="1297" y="662" width="1" height="36"/>
<rect x="1305" y="662" width="1" height="30"/>
<rect x="1313" y="662" width="1" height="24"/>
<rect x="1321" y="662" width="1" height="20"/>
<rect x="1329" y="662" width="1" height="19"/>
<rect x="1337" y="662" width="1" height="22"/>
<rect x="1345" y="662" width="1" height="22"/>
<rect x="1353" y="662" width="1" height="24"/>
<rect x="1361" y="662" width="1" height="30"/>
<rect x="1369" y="662" width="1" height="38"/>
<rect x="1377" y="662" width="1" height="44"/>
<rect x="1385" y="662" width="1" height="47"/>
<rect x="1393" y="662" width="1" height="51"/>
<rect x="1401" y="662" width="1" height="49"/>
<rect x="1409" y="662" width="1" height="48"/>
<rect x="1417" y="662" width="1" height="39"/>
<rect x="1425" y="662" width="1" height="34"/>
<rect x="1433" y="662" width="1" height="29"/>
<rect x="1441" y="662" width="1" height="24"/>
</g>
<g clip-path="url(#cmacd)"><polyline points="1.5,686.4 41.5,678.4 65.5,672.9 73.5,671.5 81.5,670.6 89.5,669.8 97.5,669.6 105.5,669.9 113.5,670.1 121.5,669.6 129.5,668.8 137.5,667.7 145.5,666.0 153.5,663.8 161.5,661.1 169.5,657.6 177.5,653.4 185.5,649.0 193.5,644.9 201.5,641.1 209.5,637.3 217.5,633.7 225.5,630.4 233.5,627.4 241.5,625.1 249.5,624.1 257.5,624.0 265.5,624.8 273.5,624.5 281.5,623.1 289.5,621.0 297.5,618.5 305.5,615.5 313.5,613.3 321.5,611.3 329.5,609.3 337.5,607.6 345.5,608.5 353.5,611.4 361.5,615.5 369.5,620.3 377.5,625.8 385.5,631.6 393.5,637.1 401.5,642.3 409.5,646.5 417.5,649.3 425.5,650.9 433.5,651.9 441.5,651.9 449.5,651.3 457.5,648.6 465.5,645.2 473.5,641.4 481.5,637.3 489.5,632.9 497.5,628.6 505.5,624.6 513.5,620.7 521.5,616.9 529.5,613.8 537.5,611.3 545.5,609.5 553.5,608.4 561.5,608.2 569.5,608.6 577.5,609.5 585.5,611.3 593.5,614.0 601.5,617.3 609.5,620.4 617.5,623.4 625.5,626.8 633.5,630.4 641.5,633.5 649.5,637.1 657.5,640.6 665.5,643.8 673.5,647.2 681.5,650.5 689.5,653.6 697.5,656.4 705.5,658.9 713.5,662.0 721.5,664.4 729.5,666.5 737.5,668.2 745.5,668.3 753.5,667.2 761.5,665.1 769.5,662.0 777.5,657.8 785.5,652.3 793.5,645.4 801.5,637.8 809.5,629.5 817.5,622.0 825.5,615.5 833.5,610.1 841.5,606.0 849.5,604.0 857.5,603.9 865.5,605.6 873.5,609.2 881.5,614.3 889.5,620.6 897.5,627.5 905.5,634.5 913.5,641.5 921.5,647.9 929.5,654.2 937.5,660.4 945.5,665.9 953.5,670.8 961.5,675.3 969.5,679.5 977.5,683.1 985.5,686.3 993.5,688.9 1001.5,690.7 1009.5,692.0 1017.5,694.7 1025.5,698.6 1033.5,703.1 1041.5,708.3 1049.5,714.0 1057.5,719.7 1065.5,725.0 1073.5,729.8 1081.5,733.7 1089.5,735.1 1097.5,734.2 1105.5,731.8 1113.5,728.6 1121.5,724.2 1129.5,718.9 1137.5,713.3 1145.5,707.7 1153.5,702.3 1161.5,697.0 1169.5,692.5 1177.5,688.1 1185.5,683.1 1193.5,677.9 1201.5,673.4 1209.5,669.3 1217.5,665.7 1225.5,663.6 1233.5,663.0 1241.5,663.1 1249.5,664.4 1257.5,667.4 1265.5,671.2 1273.5,675.2 1281.5,679.9 1289.5,685.0 1297.5,689.0 1305.5,691.4 1313.5,692.4 1321.5,692.2 1329.5,690.9 1337.5,689.9 1345.5,689.1 1353.5,688.0 1361.5,687.1 1369.5,687.3 1377.5,688.9 1385.5,691.5 1393.5,694.9 1401.5,698.2 1409.5,701.1 1417.5,703.1 1425.5,704.1 1433.5,704.0 1441.5,702.5" fill="none" stroke="#FF0000" stroke-width="1" shape-rendering="crispEdges" stroke-dasharray="3,3"/></g>
<line x1="0" y1="792.5" x2="1651" y2="792.5" stroke="#C0C0C0" stroke-width="1" stroke-dasharray="3,3" shape-rendering="crispEdges"/>
<line x1="0" y1="843.5" x2="1651" y2="843.5" stroke="#C0C0C0" stroke-width="1" stroke-dasharray="3,3" shape-rendering="crispEdges"/>
<line x1="0" y1="904.5" x2="1651" y2="904.5" stroke="#C0C0C0" stroke-width="1" stroke-dasharray="3,3" shape-rendering="crispEdges"/>
<g clip-path="url(#crsi)"><polyline points="0.0,849.4 1.5,849.4 9.5,851.1 17.5,855.5 25.5,838.1 33.5,838.1 41.5,838.6 49.5,843.9 57.5,843.5 65.5,846.1 73.5,848.8 81.5,862.0 89.5,854.3 97.5,853.7 105.5,850.6 113.5,838.1 121.5,825.2 129.5,829.8 137.5,828.9 145.5,825.3 153.5,833.3 161.5,827.9 169.5,814.2 177.5,810.7 185.5,812.9 193.5,810.0 201.5,814.9 209.5,810.8 217.5,810.5 225.5,820.6 233.5,818.0 241.5,817.2 249.5,835.3 257.5,835.2 265.5,842.1 273.5,801.7 281.5,798.1 289.5,802.2 297.5,813.4 305.5,808.9 313.5,836.2 321.5,836.7 329.5,834.0 337.5,841.5 345.5,851.7 353.5,844.4 361.5,840.2 369.5,843.5 377.5,840.5 385.5,859.1 393.5,847.4 401.5,844.5 409.5,839.0 417.5,836.4 425.5,832.1 433.5,830.3 441.5,827.2 449.5,825.7 457.5,816.5 465.5,824.9 473.5,823.5 481.5,819.3 489.5,814.4 497.5,816.1 505.5,816.2 513.5,811.7 521.5,809.9 529.5,809.8 537.5,822.4 545.5,827.9 553.5,822.7 561.5,828.7 569.5,823.9 577.5,829.9 585.5,837.9 593.5,839.4 601.5,835.7 609.5,831.9 617.5,834.3 625.5,849.2 633.5,848.0 641.5,827.7 649.5,854.3 657.5,848.5 665.5,848.6 673.5,853.6 681.5,842.9 689.5,847.5 697.5,851.5 705.5,851.3 713.5,851.8 721.5,855.0 729.5,850.0 737.5,851.5 745.5,820.5 753.5,818.9 761.5,816.7 769.5,820.1 777.5,812.4 785.5,805.2 793.5,802.6 801.5,803.6 809.5,802.9 817.5,802.6 825.5,803.2 833.5,816.1 841.5,830.0 849.5,846.7 857.5,841.1 865.5,842.6 873.5,855.1 881.5,858.5 889.5,853.6 897.5,850.8 905.5,852.6 913.5,857.4 921.5,861.7 929.5,868.0 937.5,867.7 945.5,869.4 953.5,870.8 961.5,871.2 969.5,866.6 977.5,861.3 985.5,866.0 993.5,866.7 1001.5,863.1 1009.5,868.9 1017.5,899.3 1025.5,900.2 1033.5,893.5 1041.5,894.6 1049.5,892.5 1057.5,883.5 1065.5,871.0 1073.5,867.4 1081.5,856.8 1089.5,858.3 1097.5,853.4 1105.5,857.2 1113.5,863.9 1121.5,850.2 1129.5,839.7 1137.5,841.7 1145.5,841.7 1153.5,838.7 1161.5,838.7 1169.5,851.4 1177.5,839.9 1185.5,825.5 1193.5,826.6 1201.5,834.3 1209.5,833.5 1217.5,837.2 1225.5,863.4 1233.5,866.6 1241.5,864.6 1249.5,870.8 1257.5,874.8 1265.5,857.3 1273.5,853.2 1281.5,865.7 1289.5,865.9 1297.5,854.6 1305.5,842.6 1313.5,840.4 1321.5,844.3 1329.5,847.6 1337.5,858.1 1345.5,852.6 1353.5,858.2 1361.5,866.0 1369.5,873.6 1377.5,872.7 1385.5,868.9 1393.5,872.6 1401.5,858.6 1409.5,860.3 1417.5,841.1 1425.5,846.0 1433.5,844.1 1441.5,844.3" fill="none" stroke="#1E90FF" stroke-width="1" shape-rendering="crispEdges" /></g>
<g shape-rendering="crispEdges" fill="#000">
<rect x="1652" y="51" width="2" height="1"/>
<rect x="1652" y="84" width="2" height="1"/>
<rect x="1652" y="117" width="2" height="1"/>
<rect x="1652" y="150" width="2" height="1"/>
<rect x="1652" y="183" width="2" height="1"/>
<rect x="1652" y="216" width="2" height="1"/>
<rect x="1652" y="249" width="2" height="1"/>
<rect x="1652" y="282" width="2" height="1"/>
<rect x="1652" y="315" width="2" height="1"/>
<rect x="1652" y="348" width="2" height="1"/>
<rect x="1652" y="381" width="2" height="1"/>
<rect x="1652" y="414" width="2" height="1"/>
<rect x="1652" y="447" width="2" height="1"/>
<rect x="1652" y="480" width="2" height="1"/>
<rect x="1652" y="513" width="2" height="1"/>
<rect x="1652" y="546" width="2" height="1"/>
<rect x="1652" y="579" width="2" height="1"/>
</g>
<g font-family="Liberation Sans, sans-serif" font-size="10" fill="#000">
<text x="1657" y="55" textLength="33" lengthAdjust="spacingAndGlyphs">111.685</text>
<text x="1657" y="88" textLength="33" lengthAdjust="spacingAndGlyphs">111.520</text>
<text x="1657" y="121" textLength="33" lengthAdjust="spacingAndGlyphs">111.350</text>
<text x="1657" y="154" textLength="33" lengthAdjust="spacingAndGlyphs">111.185</text>
<text x="1657" y="187" textLength="33" lengthAdjust="spacingAndGlyphs">111.015</text>
<text x="1657" y="220" textLength="33" lengthAdjust="spacingAndGlyphs">110.845</text>
<text x="1657" y="253" textLength="33" lengthAdjust="spacingAndGlyphs">110.680</text>
<text x="1657" y="286" textLength="33" lengthAdjust="spacingAndGlyphs">110.510</text>
<text x="1657" y="319" textLength="33" lengthAdjust="spacingAndGlyphs">110.345</text>
<text x="1657" y="352" textLength="33" lengthAdjust="spacingAndGlyphs">110.175</text>
<text x="1657" y="385" textLength="33" lengthAdjust="spacingAndGlyphs">110.010</text>
<text x="1657" y="418" textLength="33" lengthAdjust="spacingAndGlyphs">109.840</text>
<text x="1657" y="451" textLength="33" lengthAdjust="spacingAndGlyphs">109.675</text>
<text x="1657" y="484" textLength="33" lengthAdjust="spacingAndGlyphs">109.505</text>
<text x="1657" y="517" textLength="33" lengthAdjust="spacingAndGlyphs">109.340</text>
<text x="1657" y="550" textLength="33" lengthAdjust="spacingAndGlyphs">109.170</text>
<text x="1657" y="583" textLength="33" lengthAdjust="spacingAndGlyphs">109.005</text>
</g>
<rect x="1653" y="358" width="41" height="11" fill="#FF0000" shape-rendering="crispEdges"/>
<text x="1657" y="367.5" font-family="Liberation Sans, sans-serif" font-size="10" fill="#fff" textLength="33" lengthAdjust="spacingAndGlyphs">110.096</text>
<rect x="1653" y="380" width="41" height="11" fill="#FF0000" shape-rendering="crispEdges"/>
<text x="1657" y="389.5" font-family="Liberation Sans, sans-serif" font-size="10" fill="#fff" textLength="33" lengthAdjust="spacingAndGlyphs">109.984</text>
<rect x="1653" y="407" width="41" height="11" fill="#000000" shape-rendering="crispEdges"/>
<text x="1657" y="415.5" font-family="Liberation Sans, sans-serif" font-size="10" fill="#fff" textLength="33" lengthAdjust="spacingAndGlyphs">109.852</text>
<rect x="1653" y="418" width="41" height="11" fill="#30C030" shape-rendering="crispEdges"/>
<text x="1657" y="427.5" font-family="Liberation Sans, sans-serif" font-size="10" fill="#fff" textLength="33" lengthAdjust="spacingAndGlyphs">109.791</text>
<rect x="1653" y="439" width="41" height="11" fill="#0000FF" shape-rendering="crispEdges"/>
<text x="1657" y="448.5" font-family="Liberation Sans, sans-serif" font-size="10" fill="#fff" textLength="33" lengthAdjust="spacingAndGlyphs">109.685</text>
<rect x="1653" y="460" width="41" height="11" fill="#0000FF" shape-rendering="crispEdges"/>
<text x="1657" y="469.5" font-family="Liberation Sans, sans-serif" font-size="10" fill="#fff" textLength="33" lengthAdjust="spacingAndGlyphs">109.578</text>
<g font-family="Liberation Sans, sans-serif" font-size="9.5" fill="#000">
<text x="1655" y="595" textLength="23" lengthAdjust="spacingAndGlyphs">0.274</text>
<text x="1655" y="666" textLength="17.5" lengthAdjust="spacingAndGlyphs">0.00</text>
<text x="1655" y="751" textLength="30" lengthAdjust="spacingAndGlyphs">-0.3242</text>
<text x="1655" y="767" textLength="14.5" lengthAdjust="spacingAndGlyphs">100</text>
<text x="1654" y="796" textLength="10" lengthAdjust="spacingAndGlyphs">80</text>
<text x="1654" y="847" textLength="10" lengthAdjust="spacingAndGlyphs">50</text>
<text x="1654" y="908" textLength="10" lengthAdjust="spacingAndGlyphs">15</text>
<text x="1655" y="927" textLength="5" lengthAdjust="spacingAndGlyphs">0</text>
</g>
<g shape-rendering="crispEdges" fill="#000">
<rect x="1652" y="586" width="2" height="1"/>
<rect x="1652" y="662" width="2" height="1"/>
<rect x="1652" y="752" width="2" height="1"/>
<rect x="1652" y="757" width="2" height="1"/>
<rect x="1652" y="928" width="2" height="1"/>
</g>
<g shape-rendering="crispEdges" fill="#000">
<rect x="57" y="931" width="1" height="3"/>
<rect x="121" y="931" width="1" height="3"/>
<rect x="185" y="931" width="1" height="3"/>
<rect x="249" y="931" width="1" height="3"/>
<rect x="313" y="931" width="1" height="3"/>
<rect x="377" y="931" width="1" height="3"/>
<rect x="441" y="931" width="1" height="3"/>
<rect x="505" y="931" width="1" height="3"/>
<rect x="569" y="931" width="1" height="3"/>
<rect x="633" y="931" width="1" height="3"/>
<rect x="697" y="931" width="1" height="3"/>
<rect x="761" y="931" width="1" height="3"/>
<rect x="825" y="931" width="1" height="3"/>
<rect x="889" y="931" width="1" height="3"/>
<rect x="953" y="931" width="1" height="3"/>
<rect x="1017" y="931" width="1" height="3"/>
<rect x="1081" y="931" width="1" height="3"/>
<rect x="1145" y="931" width="1" height="3"/>
<rect x="1209" y="931" width="1" height="3"/>
<rect x="1273" y="931" width="1" height="3"/>
<rect x="1337" y="931" width="1" height="3"/>
<rect x="1401" y="931" width="1" height="3"/>
</g>
<g font-family="Liberation Sans, sans-serif" font-size="9.5" fill="#000">
<text x="-7.5" y="942.5" textLength="45.4" lengthAdjust="spacingAndGlyphs">9 Jun 2021</text>
<text x="56.5" y="942.5" textLength="53.1" lengthAdjust="spacingAndGlyphs">10 Jun 04:00</text>
<text x="120.5" y="942.5" textLength="52.4" lengthAdjust="spacingAndGlyphs">11 Jun 12:00</text>
<text x="184.5" y="942.5" textLength="53.1" lengthAdjust="spacingAndGlyphs">14 Jun 20:00</text>
<text x="248.5" y="942.5" textLength="53.1" lengthAdjust="spacingAndGlyphs">16 Jun 04:00</text>
<text x="312.5" y="942.5" textLength="53.1" lengthAdjust="spacingAndGlyphs">17 Jun 12:00</text>
<text x="376.5" y="942.5" textLength="53.1" lengthAdjust="spacingAndGlyphs">20 Jun 23:00</text>
<text x="440.5" y="942.5" textLength="53.1" lengthAdjust="spacingAndGlyphs">22 Jun 04:00</text>
<text x="504.5" y="942.5" textLength="53.1" lengthAdjust="spacingAndGlyphs">23 Jun 12:00</text>
<text x="568.5" y="942.5" textLength="53.1" lengthAdjust="spacingAndGlyphs">24 Jun 20:00</text>
<text x="632.5" y="942.5" textLength="53.1" lengthAdjust="spacingAndGlyphs">28 Jun 04:00</text>
<text x="696.5" y="942.5" textLength="53.1" lengthAdjust="spacingAndGlyphs">29 Jun 12:00</text>
<text x="760.5" y="942.5" textLength="53.1" lengthAdjust="spacingAndGlyphs">30 Jun 20:00</text>
<text x="824.5" y="942.5" textLength="44.9" lengthAdjust="spacingAndGlyphs">2 Jul 04:00</text>
<text x="888.5" y="942.5" textLength="44.9" lengthAdjust="spacingAndGlyphs">5 Jul 12:00</text>
<text x="952.5" y="942.5" textLength="44.9" lengthAdjust="spacingAndGlyphs">6 Jul 20:00</text>
<text x="1016.5" y="942.5" textLength="44.9" lengthAdjust="spacingAndGlyphs">8 Jul 04:00</text>
<text x="1080.5" y="942.5" textLength="44.9" lengthAdjust="spacingAndGlyphs">9 Jul 12:00</text>
<text x="1144.5" y="942.5" textLength="50.0" lengthAdjust="spacingAndGlyphs">12 Jul 20:00</text>
<text x="1208.5" y="942.5" textLength="50.0" lengthAdjust="spacingAndGlyphs">14 Jul 04:00</text>
<text x="1272.5" y="942.5" textLength="50.0" lengthAdjust="spacingAndGlyphs">15 Jul 12:00</text>
<text x="1336.5" y="942.5" textLength="50.0" lengthAdjust="spacingAndGlyphs">18 Jul 23:00</text>
<text x="1400.5" y="942.5" textLength="50.0" lengthAdjust="spacingAndGlyphs">20 Jul 04:00</text>
</g>
<text x="8" y="41" font-family="Liberation Sans, sans-serif" font-size="9" fill="#000" textLength="54" lengthAdjust="spacingAndGlyphs">USDJPY-,H4</text>
<text x="68.5" y="41" font-family="Liberation Sans, sans-serif" font-size="9" fill="#000" textLength="140" lengthAdjust="spacingAndGlyphs">109.845 109.854 109.841 109.852</text>
<path d="M0,36 L3,40 L0,40 Z" fill="#000"/>
<text x="0" y="597" font-family="Liberation Sans, sans-serif" font-size="9" fill="#000" textLength="131" lengthAdjust="spacingAndGlyphs">MACD(12,26,9) -0.0871 -0.1452</text>
<text x="-1" y="768" font-family="Liberation Sans, sans-serif" font-size="9" fill="#000" textLength="65" lengthAdjust="spacingAndGlyphs">RSI(14) 49.7211</text>
<path d="M1446,30 L1454,30 L1450,34 Z" fill="#B0B0B0"/>
<rect x="746.5" y="50.5" width="61" height="18" fill="none" stroke="#FF0000" stroke-width="1" shape-rendering="crispEdges"/>
<text x="748.5" y="66" font-family="Liberation Sans, sans-serif" font-size="16.5" fill="#FF0000" textLength="57.5" lengthAdjust="spacingAndGlyphs">111.647</text>
<rect x="808" y="59" width="9" height="1" fill="#FF0000" shape-rendering="crispEdges"/>
<rect x="1250.5" y="307.5" width="61" height="18" fill="none" stroke="#FF0000" stroke-width="1" shape-rendering="crispEdges"/>
<text x="1252" y="322" font-family="Liberation Sans, sans-serif" font-size="16" fill="#FF0000" textLength="57" lengthAdjust="spacingAndGlyphs">110.339</text>
<rect x="1312" y="316" width="9" height="1" fill="#FF0000" shape-rendering="crispEdges"/>
<rect x="962.5" y="467.5" width="61" height="18" fill="none" stroke="#FF0000" stroke-width="1" shape-rendering="crispEdges"/>
<text x="965" y="483" font-family="Liberation Sans, sans-serif" font-size="16" fill="#FF0000" textLength="57" lengthAdjust="spacingAndGlyphs">109.528</text>
<rect x="1024" y="476" width="9" height="1" fill="#FF0000" shape-rendering="crispEdges"/>
<rect x="1298.5" y="559.5" width="61" height="18" fill="none" stroke="#FF0000" stroke-width="1" shape-rendering="crispEdges"/>
<text x="1300" y="574" font-family="Liberation Sans, sans-serif" font-size="16" fill="#FF0000" textLength="57" lengthAdjust="spacingAndGlyphs">109.061</text>
<rect x="1360" y="568" width="9" height="1" fill="#FF0000" shape-rendering="crispEdges"/>
<rect x="1132.5" y="412.5" width="73" height="24" fill="none" stroke="#FF0000" stroke-width="1" shape-rendering="crispEdges"/>
<text x="1134.5" y="433" font-family="Liberation Sans, sans-serif" font-size="22.5" fill="#FF0000" textLength="69" lengthAdjust="spacingAndGlyphs">109.791</text>
<rect x="1122" y="424" width="8" height="1" fill="#FF0000" shape-rendering="crispEdges"/>
<rect x="1129.5" y="422.5" width="2" height="3" fill="#fff" stroke="#FF0000" stroke-width="1" shape-rendering="crispEdges"/>
<rect x="1363" y="422" width="122" height="7" fill="#00FF00" shape-rendering="crispEdges"/>
<rect x="1514.5" y="404.5" width="110" height="24" fill="none" stroke="#333" stroke-width="1" shape-rendering="crispEdges"/>
<rect x="1567" y="402" width="3" height="3" fill="none" stroke="#00FF00" stroke-width="1" shape-rendering="crispEdges"/>
<line x1="1185.0" y1="249.0" x2="1271.7" y2="437.8" stroke="#FF0000" stroke-width="3.6" stroke-linecap="round" shape-rendering="crispEdges"/>
<path d="M1275.5,446.0 L1266.4,438.1 L1275.5,433.9 Z" fill="#FF0000" shape-rendering="crispEdges"/>
<line x1="1275.5" y1="446.0" x2="1327.7" y2="313.4" stroke="#FF0000" stroke-width="3.6" stroke-linecap="round" shape-rendering="crispEdges"/>
<path d="M1331.0,305.0 L1331.6,317.1 L1322.3,313.4 Z" fill="#FF0000" shape-rendering="crispEdges"/>
<line x1="1329.5" y1="307.0" x2="1370.6" y2="566.1" stroke="#FF0000" stroke-width="3.6" stroke-linecap="round" shape-rendering="crispEdges"/>
<path d="M1372.0,575.0 L1365.3,564.9 L1375.2,563.4 Z" fill="#FF0000" shape-rendering="crispEdges"/>
<line x1="1372.0" y1="575.0" x2="1419.5" y2="410.6" stroke="#FF0000" stroke-width="3.6" stroke-linecap="round" shape-rendering="crispEdges"/>
<path d="M1422.0,402.0 L1423.7,414.0 L1414.1,411.2 Z" fill="#FF0000" shape-rendering="crispEdges"/>
<line x1="1392.0" y1="706.0" x2="1436.0" y2="681.9" stroke="#FF0000" stroke-width="3.2" stroke-linecap="round" shape-rendering="crispEdges"/>
<path d="M1443.0,678.0 L1436.6,687.2 L1431.8,678.4 Z" fill="#FF0000" shape-rendering="crispEdges"/>
<line x1="1360.0" y1="880.0" x2="1437.6" y2="849.0" stroke="#FF0000" stroke-width="3.2" stroke-linecap="round" shape-rendering="crispEdges"/>
<path d="M1445.0,846.0 L1437.6,854.4 L1433.9,845.1 Z" fill="#FF0000" shape-rendering="crispEdges"/>
<defs><linearGradient id="gbtn" x1="0" y1="0" x2="0" y2="1"><stop offset="0" stop-color="#FF5A5A"/><stop offset="1" stop-color="#E01E1E"/></linearGradient><linearGradient id="gprc" x1="0" y1="0" x2="0" y2="1"><stop offset="0" stop-color="#D82828"/><stop offset="1" stop-color="#B00404"/></linearGradient><linearGradient id="ggray" x1="0" y1="0" x2="0" y2="1"><stop offset="0" stop-color="#F2F2F2"/><stop offset="0.5" stop-color="#E6E6E6"/><stop offset="0.5" stop-color="#D8D8D8"/><stop offset="1" stop-color="#D0D0D0"/></linearGradient></defs>
<g shape-rendering="crispEdges">
<rect x="0" y="49" width="48" height="24" fill="url(#gbtn)"/>
<rect x="163" y="49" width="52" height="24" fill="url(#gbtn)"/>
<rect x="0" y="73" width="105" height="33" fill="url(#gprc)"/>
<rect x="107" y="73" width="108" height="33" fill="url(#gprc)"/>
<rect x="0" y="72" width="44" height="1" fill="#9A0A0A"/>
<rect x="167" y="72" width="44" height="1" fill="#9A0A0A"/>
<rect x="50" y="49" width="111" height="22" fill="#A8A8A8"/>
<rect x="51" y="50" width="109" height="20" fill="#fff"/>
<rect x="51" y="50" width="20" height="20" fill="url(#ggray)"/>
<rect x="71" y="50" width="1" height="20" fill="#B0B0B0"/>
<rect x="139" y="50" width="1" height="20" fill="#B0B0B0"/>
<rect x="140" y="50" width="20" height="20" fill="url(#ggray)"/>
</g>
<path d="M57.5,58 L63.5,58 L60.5,61 Z" fill="#4A5FC8"/>
<path d="M146.5,61 L152.5,61 L149.5,58 Z" fill="#4A5FC8"/>
<g font-family="Liberation Sans, sans-serif" fill="#fff">
<text x="8.5" y="65" font-size="11.5" textLength="25.5" lengthAdjust="spacingAndGlyphs">SELL</text>
<text x="176.5" y="65" font-size="11.5" textLength="23" lengthAdjust="spacingAndGlyphs">BUY</text>
<text x="19" y="101" font-size="11" font-weight="bold" textLength="20" lengthAdjust="spacingAndGlyphs">109</text>
<text x="44" y="101" font-size="34.5" textLength="33.5" lengthAdjust="spacingAndGlyphs">85</text>
<text x="82.5" y="85.5" font-size="11" font-weight="bold">2</text>
<text x="129.5" y="101" font-size="11" font-weight="bold" textLength="20" lengthAdjust="spacingAndGlyphs">109</text>
<text x="155" y="101" font-size="34.5" textLength="33.5" lengthAdjust="spacingAndGlyphs">87</text>
<text x="193.5" y="85.5" font-size="11" font-weight="bold">0</text>
</g>
<text x="135.5" y="64" font-family="Liberation Sans, sans-serif" font-size="12" fill="#000" text-anchor="end">1.00</text>
<path transform="translate(1516.00,405.50) scale(0.9500)" d="M9,1 L3,6 M7,3 L14,3 L5,10 M7,5 L10,7 M11,8 L4,13 M9,11 L17,11 L4,19 M9,13 L12,15" fill="none" stroke="#00FF00" stroke-width="1.368" stroke-linecap="square"/>
<path transform="translate(1537.30,405.50) scale(0.9500)" d="M10,0 L10,2 M2,6 L2,3 L18,3 L18,6 M8,5 L5,9 M12,5 L15,9 M5,11 L15,11 M10,11 L10,18 M2,18 L18,18" fill="none" stroke="#00FF00" stroke-width="1.368" stroke-linecap="square"/>
<path transform="translate(1558.60,405.50) scale(0.9500)" d="M1,4 L8,4 M4,1 L2,9 L8,9 M5,6 L5,19 M1,14 L8,14 M10,4 L19,4 M10,9 L19,9 M15,1 L13,13 L18,13 L14,19 M13,16 L17,19" fill="none" stroke="#00FF00" stroke-width="1.368" stroke-linecap="square"/>
<path transform="translate(1579.90,405.50) scale(0.9500)" d="M1,6 L7,6 M4,1 L4,19 L2,17 M1,13 L7,10 M17,1 L10,4 L10,10 L8,19 M10,9 L19,9 M15,9 L15,19" fill="none" stroke="#00FF00" stroke-width="1.368" stroke-linecap="square"/>
<path transform="translate(1601.20,405.50) scale(0.9500)" d="M9,0 L9,8 M9,4 L16,4 M4,8 L16,8 L16,14 L4,14 Z M3,16 L1,19 M7,16 L8,19 M11,16 L12,19 M15,16 L18,19" fill="none" stroke="#00FF00" stroke-width="1.368" stroke-linecap="square"/>
<path transform="translate(41.50,5.50) scale(0.5500)" d="M4,0 L5,2 M1,3 L9,3 M3,4 L4,7 M7,4 L6,7 M1,8 L9,8 M5,8 L5,19 M1,13 L9,13 M4,13 L1,17 M6,13 L9,16 M18,1 L12,4 L12,10 L10,19 M12,9 L19,9 M16,9 L16,19" fill="none" stroke="#202020" stroke-width="2.000" stroke-linecap="square"/>
<path transform="translate(53.50,5.50) scale(0.5500)" d="M2,1 L4,3 M1,7 L4,7 L4,17 L7,14 M8,3 L19,3 M14,3 L14,19 L11,17" fill="none" stroke="#202020" stroke-width="2.000" stroke-linecap="square"/>
<path transform="translate(65.50,5.50) scale(0.5500)" d="M5,0 L7,3 M15,0 L13,3 M3,4 L17,4 L17,13 L3,13 Z M3,8.5 L17,8.5 M10,4 L10,19 M1,16 L19,16" fill="none" stroke="#202020" stroke-width="2.000" stroke-linecap="square"/>
<path transform="translate(193.50,5.50) scale(0.5500)" d="M10,0 L8,3 M4,3 L16,3 L16,19 L4,19 Z M4,8 L16,8 M4,13 L16,13" fill="none" stroke="#202020" stroke-width="2.000" stroke-linecap="square"/>
<path transform="translate(205.50,5.50) scale(0.5500)" d="M2,2 L9,2 M1,7 L10,7 M5,7 L2,14 L9,13 M7,11 L10,15 M11,6 L19,6 L18,19 L15,18 M14,1 L14,10 L10,19" fill="none" stroke="#202020" stroke-width="2.000" stroke-linecap="square"/>
<path transform="translate(217.50,5.50) scale(0.5500)" d="M10,0 L10,3 M1,4 L19,4 M7,6 L4,9 M13,6 L16,9 M14,9 L4,19 M6,11 L17,19" fill="none" stroke="#202020" stroke-width="2.000" stroke-linecap="square"/>
<path transform="translate(229.50,5.50) scale(0.5500)" d="M5,1 L15,1 L15,8 L5,8 Z M5,4.5 L15,4.5 M6,10 L3,13 M5,11 L18,11 L17,19 L15,18 M9,11 L5,18 M13,11 L9,18" fill="none" stroke="#202020" stroke-width="2.000" stroke-linecap="square"/>
<circle cx="-1" cy="13" r="4" fill="none" stroke="#5070B0" stroke-width="1.5"/><path d="M2,16 L5,20" stroke="#C89020" stroke-width="2"/>
<rect x="12" y="3" width="1" height="20" fill="#A8A8A8" shape-rendering="crispEdges"/><rect x="13" y="3" width="1" height="20" fill="#FFFFFF" shape-rendering="crispEdges"/>
<path d="M23,5 L31,5 L35,9 L35,21 L23,21 Z" fill="#fff" stroke="#555" stroke-width="1"/>
<path d="M25,9 L31,9 M25,12 L32,12 M25,15 L30,15" stroke="#666" stroke-width="1"/>
<path d="M33,14 L33,24 M28,19 L38,19" stroke="#20B020" stroke-width="3"/>
<path d="M89,13 L96,7 L105,14 L98,20 Z" fill="#E8C040" stroke="#A07010" stroke-width="1"/><path d="M90,14 L98,21 L105,15" fill="none" stroke="#C08820" stroke-width="1.2"/>
<rect x="118.5" y="5.5" width="12" height="10" fill="#7CC0F4" stroke="#2A70B8" stroke-width="1"/>
<path d="M121,8 L128,8 M121,11 L126,11" stroke="#fff" stroke-width="1.2"/>
<path d="M117,20 Q116,16 120,16 Q121,12 126,13 Q129,12 131,15 Q134,16 133,20 Z" fill="#F4F8FC" stroke="#8098B0" stroke-width="1"/>
<circle cx="152.5" cy="13" r="7.5" fill="none" stroke="#4A90C8" stroke-width="1.2"/><circle cx="152.5" cy="13" r="4.5" fill="none" stroke="#5AA0D0" stroke-width="1.2"/><circle cx="152.5" cy="13" r="1.8" fill="#30A050"/>
<path d="M152.5,13 L156,20" stroke="#30A050" stroke-width="1.5"/>
<ellipse cx="179" cy="9" rx="7" ry="4" fill="#60A8D8" stroke="#3070A0" stroke-width="1"/>
<path d="M173,12 L185,12 L182,20 L176,20 Z" fill="#F0D060"/>
<circle cx="184" cy="18" r="4" fill="#E02020"/><rect x="182.5" y="16.5" width="3" height="3" fill="#fff"/>
<rect x="248" y="3" width="1" height="20" fill="#A8A8A8" shape-rendering="crispEdges"/><rect x="249" y="3" width="1" height="20" fill="#FFFFFF" shape-rendering="crispEdges"/>
<rect x="252" y="4" width="3" height="1" fill="#B8B8B8" shape-rendering="crispEdges"/>
<rect x="252" y="6" width="3" height="1" fill="#B8B8B8" shape-rendering="crispEdges"/>
<rect x="252" y="8" width="3" height="1" fill="#B8B8B8" shape-rendering="crispEdges"/>
<rect x="252" y="10" width="3" height="1" fill="#B8B8B8" shape-rendering="crispEdges"/>
<rect x="252" y="12" width="3" height="1" fill="#B8B8B8" shape-rendering="crispEdges"/>
<rect x="252" y="14" width="3" height="1" fill="#B8B8B8" shape-rendering="crispEdges"/>
<rect x="252" y="16" width="3" height="1" fill="#B8B8B8" shape-rendering="crispEdges"/>
<rect x="252" y="18" width="3" height="1" fill="#B8B8B8" shape-rendering="crispEdges"/>
<rect x="252" y="20" width="3" height="1" fill="#B8B8B8" shape-rendering="crispEdges"/>
<rect x="252" y="22" width="3" height="1" fill="#B8B8B8" shape-rendering="crispEdges"/>
<path d="M267,6 L267,20 L279,20 M264,20 L267,20 M267,20 L267,22" stroke="#505050" stroke-width="1" fill="none"/>
<path d="M272,10 L272,17 M270,12 L272,12 M272,15 L274,15" stroke="#30A030" stroke-width="1.2" fill="none"/>
<rect x="286.5" y="1.5" width="25" height="21" fill="#F8F8F8" stroke="#C8C8C8" stroke-width="1" shape-rendering="crispEdges"/>
<path d="M294,6 L294,20 L306,20" stroke="#505050" stroke-width="1" fill="none"/>
<rect x="297.5" y="8.5" width="4" height="7" fill="#30C030" stroke="#207020" stroke-width="1"/><path d="M299.5,5 L299.5,19" stroke="#207020" stroke-width="1"/>
<path d="M321,6 L321,20 L334,20" stroke="#505050" stroke-width="1" fill="none"/><path d="M321,15 L325,9 L329,11 L333,16" stroke="#30A030" stroke-width="1.2" fill="none"/>
<rect x="343" y="3" width="1" height="20" fill="#A8A8A8" shape-rendering="crispEdges"/><rect x="344" y="3" width="1" height="20" fill="#FFFFFF" shape-rendering="crispEdges"/>
<circle cx="359" cy="11" r="5.5" fill="#D8ECFF" stroke="#2A70C8" stroke-width="1.5"/>
<path d="M363,15 L368,20" stroke="#C8901A" stroke-width="2.5"/>
<path d="M356,11 L362,11" stroke="#2A70C8" stroke-width="1.5"/>
<path d="M359,8 L359,14" stroke="#2A70C8" stroke-width="1.5"/>
<circle cx="387" cy="11" r="5.5" fill="#D8ECFF" stroke="#2A70C8" stroke-width="1.5"/>
<path d="M391,15 L396,20" stroke="#C8901A" stroke-width="2.5"/>
<path d="M384,11 L390,11" stroke="#2A70C8" stroke-width="1.5"/>
<rect x="408" y="5" width="8" height="7" fill="#30B030"/><rect x="417" y="5" width="8" height="7" fill="#2A60C8"/><rect x="408" y="13" width="8" height="8" fill="#2A60C8"/><rect x="417" y="13" width="8" height="8" fill="#30B030"/>
<path d="M410,8 L414,8 M419,8 L423,8 M410,17 L414,17 M419,17 L423,17" stroke="#fff" stroke-width="1.5"/>
<rect x="433" y="3" width="1" height="20" fill="#A8A8A8" shape-rendering="crispEdges"/><rect x="434" y="3" width="1" height="20" fill="#FFFFFF" shape-rendering="crispEdges"/>
<rect x="438.5" y="1.5" width="25" height="21" fill="#F8F8F8" stroke="#C8C8C8" stroke-width="1" shape-rendering="crispEdges"/>
<rect x="466.5" y="1.5" width="25" height="21" fill="#F8F8F8" stroke="#C8C8C8" stroke-width="1" shape-rendering="crispEdges"/>
<path d="M445,5 L445,20 L458,20 M443,20 L445,20" stroke="#505050" stroke-width="1" fill="none"/><path d="M450,9 L455,12.5 L450,16 Z" fill="#30B030"/>
<path d="M473,5 L473,20 L486,20 M471,20 L473,20" stroke="#505050" stroke-width="1" fill="none"/><path d="M480,8 L480,17" stroke="#2040A0" stroke-width="1"/><path d="M482,12.5 L486,12.5 M482,12.5 L484,10.5 M482,12.5 L484,14.5" stroke="#D03010" stroke-width="1.2"/>
<rect x="495" y="3" width="1" height="20" fill="#A8A8A8" shape-rendering="crispEdges"/><rect x="496" y="3" width="1" height="20" fill="#FFFFFF" shape-rendering="crispEdges"/>
<path d="M506,6 L513,6 L516,9 L516,19 L506,19 Z" fill="#fff" stroke="#666" stroke-width="1"/><path d="M515,14 L515,24 M510,19 L520,19" stroke="#20B020" stroke-width="3"/>
<path d="M527,11 L532,11 L529.5,14 Z" fill="#000"/>
<circle cx="551.5" cy="13" r="7.5" fill="#2A6AD0"/><circle cx="551.5" cy="13" r="5.3" fill="#fff"/><path d="M551.5,9 L551.5,13 L554.5,14" stroke="#333" stroke-width="1" fill="none"/>
<path d="M566,11 L571,11 L568.5,14 Z" fill="#000"/>
<rect x="582.5" y="6.5" width="16" height="13" fill="#fff" stroke="#2A60C8" stroke-width="1"/><rect x="583" y="7" width="15" height="2" fill="#2A60C8"/><path d="M585,13 L589,11 L593,12 L597,10 M585,17 L589,15 L593,16 L597,14" stroke="#D03020" stroke-width="0.8" fill="none"/>
<path d="M605,11 L610,11 L607.5,14 Z" fill="#000"/>
<rect x="616" y="3" width="1" height="20" fill="#A8A8A8" shape-rendering="crispEdges"/><rect x="617" y="3" width="1" height="20" fill="#FFFFFF" shape-rendering="crispEdges"/>
<rect x="620" y="4" width="3" height="1" fill="#B8B8B8" shape-rendering="crispEdges"/>
<rect x="620" y="6" width="3" height="1" fill="#B8B8B8" shape-rendering="crispEdges"/>
<rect x="620" y="8" width="3" height="1" fill="#B8B8B8" shape-rendering="crispEdges"/>
<rect x="620" y="10" width="3" height="1" fill="#B8B8B8" shape-rendering="crispEdges"/>
<rect x="620" y="12" width="3" height="1" fill="#B8B8B8" shape-rendering="crispEdges"/>
<rect x="620" y="14" width="3" height="1" fill="#B8B8B8" shape-rendering="crispEdges"/>
<rect x="620" y="16" width="3" height="1" fill="#B8B8B8" shape-rendering="crispEdges"/>
<rect x="620" y="18" width="3" height="1" fill="#B8B8B8" shape-rendering="crispEdges"/>
<rect x="620" y="20" width="3" height="1" fill="#B8B8B8" shape-rendering="crispEdges"/>
<rect x="620" y="22" width="3" height="1" fill="#B8B8B8" shape-rendering="crispEdges"/>
<rect x="626.5" y="1.5" width="25" height="21" fill="#F8F8F8" stroke="#C8C8C8" stroke-width="1" shape-rendering="crispEdges"/>
<path d="M634,5 L634,19 L637.5,15.5 L640,21 L642,20 L639.5,14.5 L644,14.5 Z" fill="#202020"/>
<path d="M659,13.5 L674,13.5 M666.5,6 L666.5,21" stroke="#404040" stroke-width="1"/>
<rect x="683" y="3" width="1" height="20" fill="#A8A8A8" shape-rendering="crispEdges"/><rect x="684" y="3" width="1" height="20" fill="#FFFFFF" shape-rendering="crispEdges"/>
<path d="M700.5,7 L700.5,20" stroke="#404040" stroke-width="1.2"/>
<path d="M723,13.5 L735,13.5" stroke="#404040" stroke-width="1.2"/>
<path d="M751,20 L763,8" stroke="#404040" stroke-width="1.2"/>
<path d="M777,18 L790,6 M779,21 L792,9 M781,11 L785,15 M785,8 L789,12" stroke="#505050" stroke-width="1"/>
<text x="789" y="22" font-family="Liberation Sans, sans-serif" font-size="6" font-weight="bold" fill="#333">E</text>
<path d="M806,6.5 L819,6.5 M806,10.5 L819,10.5 M806,14.5 L819,14.5 M806,18.5 L815,18.5" stroke="#505050" stroke-width="1" stroke-dasharray="1,1"/>
<text x="816" y="22" font-family="Liberation Sans, sans-serif" font-size="6" font-weight="bold" fill="#333">F</text>
<text x="836" y="18" font-family="Liberation Sans, sans-serif" font-size="11" font-weight="bold" fill="#404040">A</text>
<rect x="862.5" y="6.5" width="12" height="13" fill="none" stroke="#505050" stroke-width="1" stroke-dasharray="1,1"/>
<text x="864.5" y="17.5" font-family="Liberation Sans, sans-serif" font-size="11" font-weight="bold" fill="#404040">T</text>
<path d="M890,10 L894,6 L898,10 Z M896,17 L900,13 L904,17 L900,21 Z M892,12 L897,16" fill="#303030" stroke="#303030" stroke-width="1"/>
<path d="M911,11 L916,11 L913.5,14 Z" fill="#000"/>
<rect x="922" y="3" width="1" height="20" fill="#A8A8A8" shape-rendering="crispEdges"/><rect x="923" y="3" width="1" height="20" fill="#FFFFFF" shape-rendering="crispEdges"/>
<rect x="926" y="4" width="3" height="1" fill="#B8B8B8" shape-rendering="crispEdges"/>
<rect x="926" y="6" width="3" height="1" fill="#B8B8B8" shape-rendering="crispEdges"/>
<rect x="926" y="8" width="3" height="1" fill="#B8B8B8" shape-rendering="crispEdges"/>
<rect x="926" y="10" width="3" height="1" fill="#B8B8B8" shape-rendering="crispEdges"/>
<rect x="926" y="12" width="3" height="1" fill="#B8B8B8" shape-rendering="crispEdges"/>
<rect x="926" y="14" width="3" height="1" fill="#B8B8B8" shape-rendering="crispEdges"/>
<rect x="926" y="16" width="3" height="1" fill="#B8B8B8" shape-rendering="crispEdges"/>
<rect x="926" y="18" width="3" height="1" fill="#B8B8B8" shape-rendering="crispEdges"/>
<rect x="926" y="20" width="3" height="1" fill="#B8B8B8" shape-rendering="crispEdges"/>
<rect x="926" y="22" width="3" height="1" fill="#B8B8B8" shape-rendering="crispEdges"/>
<rect x="1072.5" y="1.5" width="25" height="21" fill="#F8F8F8" stroke="#C8C8C8" stroke-width="1" shape-rendering="crispEdges"/>
<g font-family="Liberation Sans, sans-serif" font-size="9.8" fill="#333" text-anchor="middle">
<text x="943.6" y="17">M1</text>
<text x="971.8" y="17">M5</text>
<text x="1000" y="17">M15</text>
<text x="1028.4" y="17">M30</text>
<text x="1056.3" y="17">H1</text>
<text x="1083.7" y="17">H4</text>
<text x="1112.3" y="17">D1</text>
<text x="1141.1" y="17">W1</text>
<text x="1168" y="17">MN</text>
</g>
<rect x="1183" y="3" width="1" height="20" fill="#A8A8A8" shape-rendering="crispEdges"/><rect x="1184" y="3" width="1" height="20" fill="#FFFFFF" shape-rendering="crispEdges"/>
<circle cx="1654" cy="10.5" r="3.5" fill="none" stroke="#2A5CC0" stroke-width="1.6"/><path d="M1651.5,13 L1647.5,17" stroke="#2A5CC0" stroke-width="2"/>
<ellipse cx="1675.5" cy="16" rx="6" ry="4.5" fill="#EDEDED" stroke="#B0B0B0" stroke-width="1"/>
<circle cx="1684.6" cy="10.3" r="8.3" fill="#D83A26"/>
<text x="1684.6" y="14.5" font-family="Liberation Sans, sans-serif" font-size="11" fill="#fff" text-anchor="middle">1</text>
</svg></body></html>
